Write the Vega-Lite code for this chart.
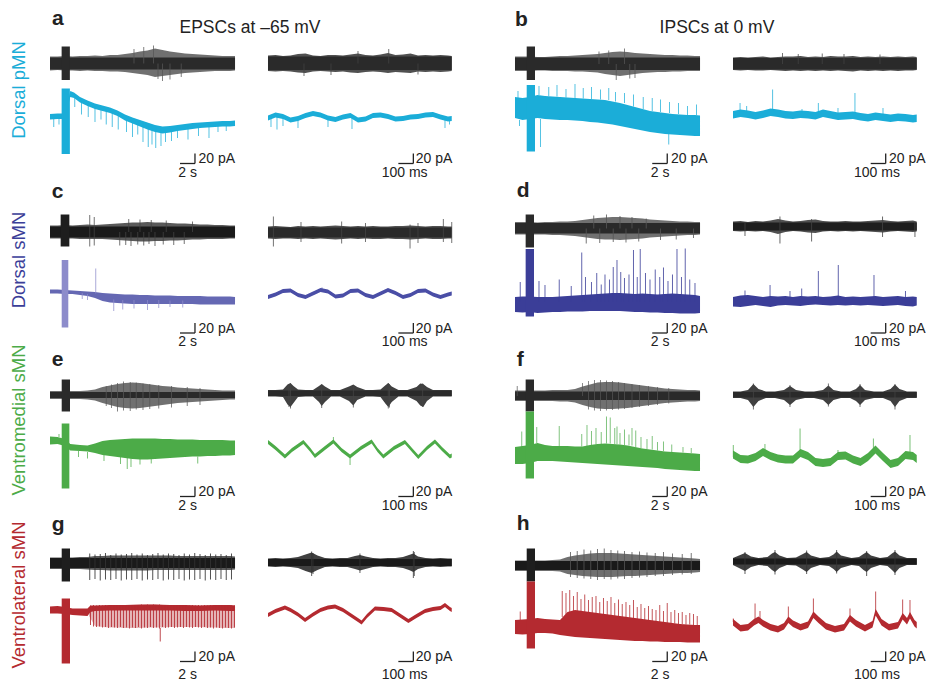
{
"$schema": "https://vega.github.io/schema/vega-lite/v6.json",
"padding": {"left": 10, "top": 0, "right": 0, "bottom": 0},
"bounds": "flush",
"align": "each",
"spacing": 0,
"columns": 4,
"config": {"view": {"stroke": null}, "text": {"font": "Liberation Sans"}, "rule": {"strokeWidth": 1}},
"datasets": {
"core": [
{"v":"aS","t":0,"y":95,"y2":119},{"v":"aS","t":24.67,"y":95,"y2":119},
{"v":"aF","t":0,"y":94,"y2":121},{"v":"aF","t":1225,"y":94,"y2":121},
{"v":"bS","t":0,"y":94,"y2":119},{"v":"bS","t":24.67,"y":94,"y2":119},
{"v":"bF","t":0,"y":95,"y2":118},{"v":"bF","t":1225,"y":95,"y2":118},
{"v":"cS","t":0,"y":109,"y2":131},{"v":"cS","t":24.67,"y":109,"y2":131},
{"v":"cF","t":0,"y":109,"y2":129},{"v":"cF","t":1225,"y":109,"y2":129},
{"v":"dS","t":0,"y":117,"y2":138},{"v":"dS","t":24.67,"y":117,"y2":138},
{"v":"dF","t":0,"y":123,"y2":139},{"v":"dF","t":1225,"y":123,"y2":139},
{"v":"eS","t":0,"y":118,"y2":130},{"v":"eS","t":24.67,"y":118,"y2":130},
{"v":"eF","t":0,"y":122,"y2":133},{"v":"eF","t":1225,"y":122,"y2":133},
{"v":"fS","t":0,"y":114,"y2":131},{"v":"fS","t":24.67,"y":114,"y2":131},
{"v":"fF","t":0,"y":119,"y2":130},{"v":"fF","t":1225,"y":119,"y2":130},
{"v":"gS","t":0,"y":108,"y2":128},{"v":"gS","t":24.67,"y":108,"y2":128},
{"v":"gF","t":0,"y":112,"y2":126},{"v":"gF","t":1225,"y":112,"y2":126},
{"v":"hS","t":0,"y":104,"y2":122},{"v":"hS","t":24.67,"y":104,"y2":122},
{"v":"hF","t":0,"y":115,"y2":127},{"v":"hF","t":1225,"y":115,"y2":127}
],
"stim": [
{"v":"a","k":"r","t":1.55,"t2":2.65,"y":74,"y2":141},{"v":"a","k":"m","t":1.55,"t2":2.65,"y":-74,"y2":57},
{"v":"b","k":"r","t":1.56,"t2":2.67,"y":74,"y2":141},{"v":"b","k":"m","t":1.56,"t2":2.67,"y":-69,"y2":64},
{"v":"c","k":"r","t":1.42,"t2":2.58,"y":91,"y2":155},{"v":"c","k":"m","t":1.56,"t2":2.44,"y":-71,"y2":64},
{"v":"d","k":"r","t":1.42,"t2":2.53,"y":89,"y2":155},{"v":"d","k":"m","t":1.42,"t2":2.53,"y":-49,"y2":86},
{"v":"e","k":"r","t":1.56,"t2":2.67,"y":91,"y2":155},{"v":"e","k":"m","t":1.56,"t2":2.58,"y":-63,"y2":67},
{"v":"f","k":"r","t":1.42,"t2":2.53,"y":91,"y2":155},{"v":"f","k":"m","t":1.42,"t2":2.53,"y":-43,"y2":91},
{"v":"g","k":"r","t":1.56,"t2":2.67,"y":81,"y2":147},{"v":"g","k":"m","t":1.56,"t2":2.67,"y":-83,"y2":47},
{"v":"h","k":"r","t":1.56,"t2":2.67,"y":81,"y2":147},{"v":"h","k":"m","t":1.56,"t2":2.67,"y":-53,"y2":81}
],
"bars": [
{"v":"aS","t":17.33,"t2":19.33,"y":-93,"y2":-93},{"v":"aS","t":19.33,"t2":19.33,"y":-93,"y2":-73},
{"v":"aF","t":869,"t2":969,"y":-93,"y2":-93},{"v":"aF","t":969,"t2":969,"y":-93,"y2":-73},
{"v":"bS","t":18.3,"t2":20.3,"y":-93,"y2":-93},{"v":"bS","t":20.3,"t2":20.3,"y":-93,"y2":-73},
{"v":"bF","t":918,"t2":1018,"y":-93,"y2":-93},{"v":"bF","t":1018,"t2":1018,"y":-93,"y2":-73},
{"v":"cS","t":17.33,"t2":19.33,"y":-82,"y2":-82},{"v":"cS","t":19.33,"t2":19.33,"y":-82,"y2":-62},
{"v":"cF","t":869,"t2":969,"y":-82,"y2":-82},{"v":"cF","t":969,"t2":969,"y":-82,"y2":-62},
{"v":"dS","t":18.3,"t2":20.3,"y":-82,"y2":-82},{"v":"dS","t":20.3,"t2":20.3,"y":-82,"y2":-62},
{"v":"dF","t":918,"t2":1018,"y":-82,"y2":-82},{"v":"dF","t":1018,"t2":1018,"y":-82,"y2":-62},
{"v":"eS","t":17.33,"t2":19.33,"y":-79,"y2":-79},{"v":"eS","t":19.33,"t2":19.33,"y":-79,"y2":-59},
{"v":"eF","t":869,"t2":969,"y":-79,"y2":-79},{"v":"eF","t":969,"t2":969,"y":-79,"y2":-59},
{"v":"fS","t":18.3,"t2":20.3,"y":-79,"y2":-79},{"v":"fS","t":20.3,"t2":20.3,"y":-79,"y2":-59},
{"v":"fF","t":918,"t2":1018,"y":-79,"y2":-79},{"v":"fF","t":1018,"t2":1018,"y":-79,"y2":-59},
{"v":"gS","t":17.33,"t2":19.33,"y":-79,"y2":-79},{"v":"gS","t":19.33,"t2":19.33,"y":-79,"y2":-59},
{"v":"gF","t":869,"t2":969,"y":-79,"y2":-79},{"v":"gF","t":969,"t2":969,"y":-79,"y2":-59},
{"v":"hS","t":18.3,"t2":20.3,"y":-79,"y2":-79},{"v":"hS","t":20.3,"t2":20.3,"y":-79,"y2":-59},
{"v":"hF","t":918,"t2":1018,"y":-79,"y2":-79},{"v":"hF","t":1018,"t2":1018,"y":-79,"y2":-59}
],
"labs": [
{"v":"aS","t":19.8,"y":-92,"txt":"20 pA"},{"v":"aS","t":17.1,"y":-119,"txt":"2 s"},
{"v":"aF","t":985,"y":-92,"txt":"20 pA"},{"v":"aF","t":758,"y":-119,"txt":"100 ms"},
{"v":"bS","t":20.8,"y":-92,"txt":"20 pA"},{"v":"bS","t":18.1,"y":-119,"txt":"2 s"},
{"v":"bF","t":1040,"y":-92,"txt":"20 pA"},{"v":"bF","t":807,"y":-119,"txt":"100 ms"},
{"v":"cS","t":19.8,"y":-81,"txt":"20 pA"},{"v":"cS","t":17.1,"y":-108,"txt":"2 s"},
{"v":"cF","t":985,"y":-81,"txt":"20 pA"},{"v":"cF","t":758,"y":-108,"txt":"100 ms"},
{"v":"dS","t":20.8,"y":-81,"txt":"20 pA"},{"v":"dS","t":18.1,"y":-108,"txt":"2 s"},
{"v":"dF","t":1040,"y":-81,"txt":"20 pA"},{"v":"dF","t":807,"y":-108,"txt":"100 ms"},
{"v":"eS","t":19.8,"y":-78,"txt":"20 pA"},{"v":"eS","t":17.1,"y":-106,"txt":"2 s"},
{"v":"eF","t":985,"y":-78,"txt":"20 pA"},{"v":"eF","t":758,"y":-106,"txt":"100 ms"},
{"v":"fS","t":20.8,"y":-78,"txt":"20 pA"},{"v":"fS","t":18.1,"y":-106,"txt":"2 s"},
{"v":"fF","t":1040,"y":-78,"txt":"20 pA"},{"v":"fF","t":807,"y":-106,"txt":"100 ms"},
{"v":"gS","t":19.8,"y":-78,"txt":"20 pA"},{"v":"gS","t":17.1,"y":-113,"txt":"2 s"},
{"v":"gF","t":985,"y":-78,"txt":"20 pA"},{"v":"gF","t":758,"y":-113,"txt":"100 ms"},
{"v":"hS","t":20.8,"y":-78,"txt":"20 pA"},{"v":"hS","t":18.1,"y":-113,"txt":"2 s"},
{"v":"hF","t":1040,"y":-78,"txt":"20 pA"},{"v":"hF","t":807,"y":-113,"txt":"100 ms"}
],
"lets": [
{"v":"a","t":0.27,"y":184,"txt":"a"},{"v":"b","t":0,"y":182,"txt":"b"},
{"v":"c","t":0.22,"y":189,"txt":"c"},{"v":"d","t":0.22,"y":191,"txt":"d"},
{"v":"e","t":0.22,"y":182,"txt":"e"},{"v":"f","t":0.22,"y":182,"txt":"f"},
{"v":"g","t":0.22,"y":182,"txt":"g"},{"v":"h","t":0.22,"y":184,"txt":"h"}
],
"aSr": [{"t":0,"y":93,"y2":121},{"t":1,"y":94,"y2":121},{"t":2,"y":93,"y2":122},{"t":3,"y":93,"y2":121},{"t":4,"y":92,"y2":122},{"t":5,"y":93,"y2":122},{"t":6,"y":92,"y2":123},{"t":7,"y":92,"y2":122},{"t":8,"y":91,"y2":124},{"t":9,"y":91,"y2":124},{"t":10,"y":90,"y2":126},{"t":11,"y":88,"y2":128},{"t":12,"y":86,"y2":131},{"t":13,"y":84,"y2":133},{"t":14,"y":80,"y2":137},{"t":15,"y":82,"y2":134},{"t":16,"y":84,"y2":131},{"t":17,"y":86,"y2":129},{"t":18,"y":88,"y2":127},{"t":19,"y":89,"y2":126},{"t":20,"y":90,"y2":125},{"t":21,"y":91,"y2":124},{"t":22,"y":92,"y2":123},{"t":23,"y":92,"y2":122},{"t":24,"y":92,"y2":122},{"t":24.67,"y":93,"y2":122}],
"aSm": [{"t":0,"y":-5,"y2":6},{"t":1,"y":-4,"y2":7},{"t":2,"y":-4,"y2":7},{"t":2.7,"y":40,"y2":52},{"t":3.2,"y":38,"y2":49},{"t":4,"y":29,"y2":40},{"t":5,"y":22,"y2":33},{"t":6,"y":16,"y2":27},{"t":7,"y":12,"y2":23},{"t":8,"y":8,"y2":19},{"t":9,"y":2,"y2":13},{"t":10,"y":-7,"y2":5},{"t":11,"y":-13,"y2":-1},{"t":12,"y":-19,"y2":-6},{"t":13,"y":-25,"y2":-11},{"t":14,"y":-30,"y2":-16},{"t":15,"y":-33,"y2":-19},{"t":16,"y":-31,"y2":-18},{"t":17,"y":-28,"y2":-16},{"t":18,"y":-26,"y2":-14},{"t":19,"y":-24,"y2":-12},{"t":20,"y":-22,"y2":-11},{"t":21,"y":-21,"y2":-10},{"t":22,"y":-20,"y2":-9},{"t":23,"y":-19,"y2":-8},{"t":24,"y":-19,"y2":-8},{"t":24.67,"y":-18,"y2":-7}],
"aSx": [{"k":"r","t":12.5,"y":107,"y2":140},{"k":"r","t":13.8,"y":107,"y2":143},{"k":"r","t":15,"y":107,"y2":72},{"k":"r","t":16,"y":107,"y2":75},{"k":"r","t":14.4,"y":107,"y2":76},{"k":"r","t":11.2,"y":107,"y2":136},{"k":"r","t":17.5,"y":107,"y2":80},
{"k":"m","t":0.5,"y":0,"y2":-20},{"k":"m","t":1.2,"y":0,"y2":-15},{"k":"m","t":3.3,"y":45,"y2":20},{"k":"m","t":4.2,"y":33,"y2":5},{"k":"m","t":5.1,"y":27,"y2":0},{"k":"m","t":6,"y":21,"y2":-10},{"k":"m","t":6.8,"y":18,"y2":-5},{"k":"m","t":7.5,"y":15,"y2":-15},{"k":"m","t":8.3,"y":12,"y2":-20},{"k":"m","t":9.1,"y":8,"y2":-25},{"k":"m","t":10.2,"y":0,"y2":-30},{"k":"m","t":11,"y":-6,"y2":-40},{"k":"m","t":11.7,"y":-9,"y2":-35},{"k":"m","t":12.4,"y":-13,"y2":-50},{"k":"m","t":13.1,"y":-16,"y2":-60},{"k":"m","t":13.6,"y":-18,"y2":-55},{"k":"m","t":14.1,"y":-21,"y2":-62},{"k":"m","t":14.8,"y":-24,"y2":-58},{"k":"m","t":15.4,"y":-24,"y2":-50},{"k":"m","t":16.2,"y":-23,"y2":-48},{"k":"m","t":17,"y":-21,"y2":-42},{"k":"m","t":18.4,"y":-19,"y2":-45},{"k":"m","t":19.8,"y":-16,"y2":-38},{"k":"m","t":21.2,"y":-15,"y2":-42},{"k":"m","t":22.4,"y":-14,"y2":-30},{"k":"m","t":23.5,"y":-13,"y2":-28}],
"aFr": [{"t":0,"y":92,"y2":123},{"t":50,"y":91,"y2":124},{"t":100,"y":92,"y2":122},{"t":150,"y":91,"y2":123},{"t":200,"y":89,"y2":126},{"t":250,"y":88,"y2":127},{"t":300,"y":91,"y2":123},{"t":350,"y":92,"y2":122},{"t":400,"y":91,"y2":124},{"t":450,"y":90,"y2":124},{"t":500,"y":91,"y2":123},{"t":550,"y":89,"y2":125},{"t":600,"y":88,"y2":127},{"t":650,"y":90,"y2":124},{"t":700,"y":91,"y2":123},{"t":750,"y":90,"y2":125},{"t":800,"y":88,"y2":128},{"t":850,"y":90,"y2":124},{"t":900,"y":89,"y2":125},{"t":950,"y":88,"y2":127},{"t":1000,"y":91,"y2":123},{"t":1050,"y":90,"y2":124},{"t":1100,"y":91,"y2":123},{"t":1150,"y":90,"y2":124},{"t":1200,"y":91,"y2":123},{"t":1225,"y":92,"y2":122}],
"aFm": [{"t":0,"y":-7,"y2":3},{"t":50,"y":-1,"y2":9},{"t":100,"y":-4,"y2":6},{"t":150,"y":-11,"y2":-1},{"t":200,"y":-8,"y2":2},{"t":250,"y":-2,"y2":8},{"t":300,"y":2,"y2":12},{"t":350,"y":-1,"y2":9},{"t":400,"y":-7,"y2":3},{"t":450,"y":-10,"y2":0},{"t":500,"y":-5,"y2":5},{"t":550,"y":-2,"y2":8},{"t":600,"y":-11,"y2":-1},{"t":650,"y":-9,"y2":1},{"t":700,"y":-2,"y2":8},{"t":750,"y":-1,"y2":9},{"t":800,"y":-4,"y2":6},{"t":850,"y":-9,"y2":1},{"t":900,"y":-8,"y2":2},{"t":950,"y":-5,"y2":5},{"t":1000,"y":-4,"y2":6},{"t":1050,"y":-1,"y2":9},{"t":1100,"y":0,"y2":10},{"t":1150,"y":-5,"y2":5},{"t":1200,"y":-9,"y2":1},{"t":1225,"y":-8,"y2":2}],
"aFx": [{"k":"r","t":805,"y":107,"y2":136},{"k":"r","t":240,"y":107,"y2":82},{"k":"r","t":600,"y":107,"y2":132},{"k":"r","t":420,"y":107,"y2":84},{"k":"r","t":1000,"y":107,"y2":85},
{"k":"m","t":20,"y":-2,"y2":-20},{"k":"m","t":60,"y":2,"y2":-25},{"k":"m","t":100,"y":0,"y2":-18},{"k":"m","t":200,"y":-4,"y2":-22},{"k":"m","t":400,"y":-3,"y2":-20},{"k":"m","t":560,"y":0,"y2":-24},{"k":"m","t":1180,"y":-3,"y2":-22},{"k":"m","t":1210,"y":-4,"y2":-15}],
"bSr": [{"t":0,"y":92,"y2":121},{"t":1,"y":92,"y2":121},{"t":2,"y":92,"y2":121},{"t":3,"y":93,"y2":120},{"t":4,"y":93,"y2":120},{"t":5,"y":92,"y2":121},{"t":6,"y":92,"y2":122},{"t":7,"y":92,"y2":122},{"t":8,"y":91,"y2":123},{"t":9,"y":91,"y2":124},{"t":10,"y":90,"y2":125},{"t":11,"y":89,"y2":126},{"t":12,"y":86,"y2":128},{"t":13,"y":84,"y2":130},{"t":14,"y":82,"y2":131},{"t":15,"y":84,"y2":130},{"t":16,"y":86,"y2":128},{"t":17,"y":88,"y2":127},{"t":18,"y":89,"y2":126},{"t":19,"y":90,"y2":125},{"t":20,"y":90,"y2":124},{"t":21,"y":91,"y2":124},{"t":22,"y":91,"y2":123},{"t":23,"y":92,"y2":123},{"t":24,"y":92,"y2":122},{"t":24.67,"y":92,"y2":122}],
"bSm": [{"t":0,"y":-2,"y2":40},{"t":1,"y":-6,"y2":38},{"t":2,"y":-4,"y2":40},{"t":3,"y":-2,"y2":44},{"t":4,"y":-4,"y2":42},{"t":5,"y":-5,"y2":41},{"t":6,"y":-6,"y2":40},{"t":7,"y":-6,"y2":39},{"t":8,"y":-7,"y2":38},{"t":9,"y":-8,"y2":37},{"t":10,"y":-10,"y2":36},{"t":11,"y":-11,"y2":35},{"t":12,"y":-13,"y2":34},{"t":13,"y":-15,"y2":31},{"t":14,"y":-18,"y2":28},{"t":15,"y":-21,"y2":24},{"t":16,"y":-24,"y2":20},{"t":17,"y":-27,"y2":16},{"t":18,"y":-30,"y2":12},{"t":19,"y":-32,"y2":10},{"t":20,"y":-34,"y2":8},{"t":21,"y":-35,"y2":6},{"t":22,"y":-36,"y2":5},{"t":23,"y":-37,"y2":4},{"t":24,"y":-38,"y2":4},{"t":24.67,"y":-38,"y2":3}],
"bSx": [{"k":"r","t":13.5,"y":106,"y2":74},{"k":"r","t":14.6,"y":106,"y2":137},{"k":"r","t":12.5,"y":106,"y2":133},{"k":"r","t":16,"y":106,"y2":78},{"k":"r","t":11.2,"y":106,"y2":131},{"k":"r","t":15.3,"y":106,"y2":77},
{"k":"m","t":0.4,"y":38,"y2":52},{"k":"m","t":3.2,"y":44,"y2":62},{"k":"m","t":4.5,"y":42,"y2":60},{"k":"m","t":5.6,"y":41,"y2":64},{"k":"m","t":6.8,"y":39,"y2":56},{"k":"m","t":8,"y":38,"y2":66},{"k":"m","t":9.1,"y":37,"y2":58},{"k":"m","t":10.2,"y":36,"y2":60},{"k":"m","t":11.4,"y":35,"y2":55},{"k":"m","t":12.5,"y":34,"y2":58},{"k":"m","t":13.4,"y":31,"y2":50},{"k":"m","t":14.6,"y":28,"y2":48},{"k":"m","t":15.8,"y":21,"y2":45},{"k":"m","t":17.1,"y":16,"y2":40},{"k":"m","t":18.3,"y":12,"y2":38},{"k":"m","t":19.4,"y":10,"y2":35},{"k":"m","t":20.6,"y":8,"y2":30},{"k":"m","t":21.8,"y":6,"y2":28},{"k":"m","t":23,"y":4,"y2":22},{"k":"m","t":24.2,"y":4,"y2":25},{"k":"m","t":3.4,"y":-4,"y2":-60},{"k":"m","t":0.6,"y":-6,"y2":-18},{"k":"m","t":20.5,"y":-34,"y2":-55}],
"bFr": [{"t":0,"y":94,"y2":119},{"t":50,"y":93,"y2":120},{"t":100,"y":94,"y2":119},{"t":150,"y":93,"y2":120},{"t":200,"y":93,"y2":121},{"t":250,"y":94,"y2":119},{"t":300,"y":93,"y2":120},{"t":350,"y":92,"y2":121},{"t":400,"y":93,"y2":121},{"t":450,"y":92,"y2":122},{"t":500,"y":93,"y2":120},{"t":550,"y":92,"y2":121},{"t":600,"y":93,"y2":120},{"t":650,"y":92,"y2":122},{"t":700,"y":93,"y2":121},{"t":750,"y":92,"y2":121},{"t":800,"y":91,"y2":122},{"t":850,"y":93,"y2":120},{"t":900,"y":92,"y2":121},{"t":950,"y":93,"y2":120},{"t":1000,"y":92,"y2":121},{"t":1050,"y":93,"y2":120},{"t":1100,"y":92,"y2":121},{"t":1150,"y":93,"y2":120},{"t":1200,"y":93,"y2":121},{"t":1225,"y":94,"y2":120}],
"bFm": [{"t":0,"y":-3,"y2":12},{"t":50,"y":0,"y2":15},{"t":100,"y":-2,"y2":13},{"t":150,"y":-5,"y2":10},{"t":200,"y":-2,"y2":13},{"t":250,"y":2,"y2":17},{"t":300,"y":0,"y2":15},{"t":350,"y":-3,"y2":12},{"t":400,"y":-4,"y2":11},{"t":450,"y":-2,"y2":13},{"t":500,"y":-3,"y2":12},{"t":550,"y":-5,"y2":10},{"t":600,"y":0,"y2":15},{"t":650,"y":-3,"y2":12},{"t":700,"y":-6,"y2":9},{"t":750,"y":-5,"y2":10},{"t":800,"y":-4,"y2":11},{"t":850,"y":-7,"y2":8},{"t":900,"y":-9,"y2":6},{"t":950,"y":-6,"y2":9},{"t":1000,"y":-8,"y2":7},{"t":1050,"y":-10,"y2":5},{"t":1100,"y":-8,"y2":7},{"t":1150,"y":-9,"y2":6},{"t":1200,"y":-11,"y2":4},{"t":1225,"y":-10,"y2":5}],
"bFx": [{"k":"r","t":330,"y":106,"y2":128},{"k":"r","t":435,"y":106,"y2":126},{"k":"r","t":595,"y":106,"y2":127},{"k":"r","t":740,"y":106,"y2":126},{"k":"r","t":980,"y":106,"y2":125},
{"k":"m","t":47,"y":10,"y2":28},{"k":"m","t":91,"y":10,"y2":22},{"k":"m","t":264,"y":12,"y2":55},{"k":"m","t":569,"y":8,"y2":28},{"k":"m","t":813,"y":8,"y2":48},{"k":"m","t":1000,"y":5,"y2":18},{"k":"m","t":700,"y":5,"y2":18},{"k":"m","t":460,"y":8,"y2":16}],
"cSr": [{"t":0,"y":107,"y2":133},{"t":1,"y":107,"y2":133},{"t":2,"y":107,"y2":134},{"t":3,"y":107,"y2":133},{"t":4,"y":106,"y2":134},{"t":5,"y":106,"y2":135},{"t":6,"y":106,"y2":134},{"t":7,"y":106,"y2":135},{"t":8,"y":105,"y2":136},{"t":9,"y":104,"y2":137},{"t":10,"y":103,"y2":138},{"t":11,"y":102,"y2":139},{"t":12,"y":101,"y2":139},{"t":13,"y":101,"y2":140},{"t":14,"y":102,"y2":139},{"t":15,"y":102,"y2":139},{"t":16,"y":103,"y2":138},{"t":17,"y":103,"y2":137},{"t":18,"y":104,"y2":137},{"t":19,"y":105,"y2":136},{"t":20,"y":105,"y2":135},{"t":21,"y":106,"y2":135},{"t":22,"y":106,"y2":134},{"t":23,"y":106,"y2":134},{"t":24,"y":107,"y2":133},{"t":24.67,"y":107,"y2":133}],
"cSm": [{"t":0,"y":-3,"y2":5},{"t":1,"y":-3,"y2":5},{"t":2,"y":-4,"y2":4},{"t":3,"y":-4,"y2":3},{"t":4,"y":-6,"y2":2},{"t":5,"y":-8,"y2":1},{"t":6,"y":-12,"y2":0},{"t":7,"y":-18,"y2":-2},{"t":8,"y":-21,"y2":-3},{"t":9,"y":-22,"y2":-4},{"t":10,"y":-23,"y2":-5},{"t":11,"y":-24,"y2":-5},{"t":12,"y":-24,"y2":-6},{"t":13,"y":-24,"y2":-6},{"t":14,"y":-24,"y2":-7},{"t":15,"y":-24,"y2":-7},{"t":16,"y":-24,"y2":-7},{"t":17,"y":-24,"y2":-8},{"t":18,"y":-24,"y2":-8},{"t":19,"y":-24,"y2":-8},{"t":20,"y":-25,"y2":-8},{"t":21,"y":-25,"y2":-9},{"t":22,"y":-25,"y2":-9},{"t":23,"y":-25,"y2":-9},{"t":24,"y":-25,"y2":-9},{"t":24.67,"y":-25,"y2":-10}],
"cSx": [{"k":"r","t":5.3,"y":91,"y2":154},{"k":"r","t":5.9,"y":93,"y2":150},{"k":"r","t":9.3,"y":120,"y2":93},{"k":"r","t":10.1,"y":120,"y2":94},{"k":"r","t":10.8,"y":120,"y2":92},{"k":"r","t":11.7,"y":120,"y2":95},{"k":"r","t":12.5,"y":120,"y2":93},{"k":"r","t":13.2,"y":120,"y2":96},{"k":"r","t":14,"y":120,"y2":92},{"k":"r","t":15.1,"y":120,"y2":95},{"k":"r","t":16.5,"y":120,"y2":94},{"k":"r","t":17.9,"y":120,"y2":96},{"k":"r","t":10.5,"y":120,"y2":146},{"k":"r","t":12,"y":120,"y2":145},{"k":"r","t":13.5,"y":120,"y2":144},{"k":"r","t":15.5,"y":120,"y2":143},{"k":"r","t":19,"y":120,"y2":141},
{"k":"m","t":6.1,"y":-3,"y2":47},{"k":"m","t":8.5,"y":-15,"y2":-38},{"k":"m","t":9.7,"y":-16,"y2":-35},{"k":"m","t":11.2,"y":-16,"y2":-33},{"k":"m","t":13,"y":-16,"y2":-36},{"k":"m","t":14.5,"y":-16,"y2":-32},{"k":"m","t":16,"y":-17,"y2":-30},{"k":"m","t":17.7,"y":-17,"y2":-31},{"k":"m","t":4.3,"y":-2,"y2":-14},{"k":"m","t":5,"y":-4,"y2":-16}],
"cFr": [{"t":0,"y":107,"y2":131},{"t":50,"y":106,"y2":132},{"t":100,"y":107,"y2":131},{"t":150,"y":107,"y2":130},{"t":200,"y":106,"y2":132},{"t":250,"y":107,"y2":131},{"t":300,"y":106,"y2":132},{"t":350,"y":107,"y2":131},{"t":400,"y":106,"y2":132},{"t":450,"y":105,"y2":133},{"t":500,"y":106,"y2":132},{"t":550,"y":107,"y2":131},{"t":600,"y":106,"y2":132},{"t":650,"y":107,"y2":131},{"t":700,"y":106,"y2":132},{"t":750,"y":106,"y2":131},{"t":800,"y":107,"y2":131},{"t":850,"y":106,"y2":132},{"t":900,"y":106,"y2":132},{"t":950,"y":105,"y2":133},{"t":1000,"y":106,"y2":132},{"t":1050,"y":107,"y2":131},{"t":1100,"y":106,"y2":132},{"t":1150,"y":106,"y2":132},{"t":1200,"y":107,"y2":131},{"t":1225,"y":107,"y2":131}],
"cFm": [{"t":0,"y":-14,"y2":-6},{"t":50,"y":-9,"y2":-1},{"t":100,"y":-2,"y2":6},{"t":150,"y":-1,"y2":7},{"t":200,"y":-10,"y2":-2},{"t":250,"y":-14,"y2":-6},{"t":300,"y":-7,"y2":1},{"t":350,"y":0,"y2":8},{"t":400,"y":-3,"y2":5},{"t":450,"y":-13,"y2":-5},{"t":500,"y":-11,"y2":-3},{"t":550,"y":-2,"y2":6},{"t":600,"y":-1,"y2":7},{"t":650,"y":-10,"y2":-2},{"t":700,"y":-14,"y2":-6},{"t":750,"y":-7,"y2":1},{"t":800,"y":0,"y2":8},{"t":850,"y":-6,"y2":2},{"t":900,"y":-14,"y2":-6},{"t":950,"y":-10,"y2":-2},{"t":1000,"y":-2,"y2":6},{"t":1050,"y":-1,"y2":7},{"t":1100,"y":-9,"y2":-1},{"t":1150,"y":-14,"y2":-6},{"t":1200,"y":-9,"y2":-1},{"t":1225,"y":-7,"y2":1}],
"cFx": [{"k":"r","t":36,"y":91,"y2":151},{"k":"r","t":220,"y":100,"y2":140},{"k":"r","t":491,"y":97,"y2":141},{"k":"r","t":650,"y":100,"y2":138},{"k":"r","t":947,"y":87,"y2":135},{"k":"r","t":1000,"y":98,"y2":138},{"k":"r","t":1169,"y":100,"y2":146},{"k":"r","t":1225,"y":98,"y2":140},{"k":"m","t":360,"y":2,"y2":9}],
"dSr": [{"t":0,"y":115,"y2":140},{"t":1,"y":115,"y2":140},{"t":2,"y":115,"y2":140},{"t":3,"y":115,"y2":139},{"t":4,"y":115,"y2":140},{"t":5,"y":114,"y2":140},{"t":6,"y":114,"y2":141},{"t":7,"y":113,"y2":141},{"t":8,"y":112,"y2":142},{"t":9,"y":110,"y2":144},{"t":10,"y":108,"y2":146},{"t":11,"y":106,"y2":148},{"t":12,"y":105,"y2":149},{"t":13,"y":105,"y2":150},{"t":14,"y":104,"y2":150},{"t":15,"y":105,"y2":149},{"t":16,"y":106,"y2":148},{"t":17,"y":107,"y2":147},{"t":18,"y":109,"y2":145},{"t":19,"y":110,"y2":144},{"t":20,"y":111,"y2":143},{"t":21,"y":112,"y2":142},{"t":22,"y":113,"y2":141},{"t":23,"y":114,"y2":141},{"t":24,"y":114,"y2":140},{"t":24.67,"y":115,"y2":140}],
"dSm": [{"t":0,"y":-40,"y2":-10},{"t":1,"y":-41,"y2":-9},{"t":2,"y":-40,"y2":-9},{"t":3,"y":-42,"y2":-10},{"t":4,"y":-41,"y2":-10},{"t":5,"y":-40,"y2":-10},{"t":6,"y":-40,"y2":-9},{"t":7,"y":-39,"y2":-8},{"t":8,"y":-39,"y2":-7},{"t":9,"y":-39,"y2":-6},{"t":10,"y":-38,"y2":-5},{"t":11,"y":-38,"y2":-4},{"t":12,"y":-38,"y2":-3},{"t":13,"y":-38,"y2":-2},{"t":14,"y":-38,"y2":-2},{"t":15,"y":-39,"y2":-3},{"t":16,"y":-40,"y2":-4},{"t":17,"y":-40,"y2":-3},{"t":18,"y":-41,"y2":-4},{"t":19,"y":-41,"y2":-5},{"t":20,"y":-42,"y2":-4},{"t":21,"y":-42,"y2":-3},{"t":22,"y":-43,"y2":-4},{"t":23,"y":-43,"y2":-5},{"t":24,"y":-43,"y2":-6},{"t":24.67,"y":-42,"y2":-8}],
"dSx": [{"k":"r","t":9.5,"y":127,"y2":97},{"k":"r","t":10.5,"y":127,"y2":153},{"k":"r","t":11.3,"y":127,"y2":98},{"k":"r","t":12.2,"y":127,"y2":155},{"k":"r","t":13.1,"y":127,"y2":100},{"k":"r","t":14,"y":127,"y2":152},{"k":"r","t":14.8,"y":127,"y2":99},{"k":"r","t":15.6,"y":127,"y2":150},{"k":"r","t":16.5,"y":127,"y2":101},{"k":"r","t":17.5,"y":127,"y2":147},{"k":"r","t":19.4,"y":127,"y2":104},{"k":"r","t":21.5,"y":127,"y2":105},{"k":"r","t":23.8,"y":127,"y2":108},
{"k":"m","t":0.7,"y":-20,"y2":20},{"k":"m","t":3.2,"y":-20,"y2":22},{"k":"m","t":4,"y":-20,"y2":14},{"k":"m","t":5.9,"y":-20,"y2":25},{"k":"m","t":7.5,"y":-20,"y2":12},{"k":"m","t":8.9,"y":-20,"y2":79},{"k":"m","t":9.4,"y":-20,"y2":30},{"k":"m","t":10.2,"y":-20,"y2":20},{"k":"m","t":10.9,"y":-20,"y2":38},{"k":"m","t":11.5,"y":-20,"y2":15},{"k":"m","t":12,"y":-20,"y2":35},{"k":"m","t":12.6,"y":-20,"y2":25},{"k":"m","t":13.1,"y":-20,"y2":50},{"k":"m","t":13.6,"y":-20,"y2":64},{"k":"m","t":14.1,"y":-20,"y2":40},{"k":"m","t":14.6,"y":-20,"y2":28},{"k":"m","t":15.2,"y":-20,"y2":35},{"k":"m","t":15.8,"y":-20,"y2":84},{"k":"m","t":16.3,"y":-20,"y2":30},{"k":"m","t":16.7,"y":-20,"y2":86},{"k":"m","t":17.4,"y":-20,"y2":38},{"k":"m","t":18,"y":-20,"y2":25},{"k":"m","t":18.7,"y":-20,"y2":45},{"k":"m","t":19.3,"y":-20,"y2":30},{"k":"m","t":19.8,"y":-20,"y2":49},{"k":"m","t":20.4,"y":-20,"y2":22},{"k":"m","t":21,"y":-20,"y2":35},{"k":"m","t":21.6,"y":-20,"y2":86},{"k":"m","t":22.2,"y":-20,"y2":30},{"k":"m","t":22.7,"y":-20,"y2":87},{"k":"m","t":23.3,"y":-20,"y2":25},{"k":"m","t":24,"y":-20,"y2":18}],
"dFr": [{"t":0,"y":122,"y2":141},{"t":50,"y":121,"y2":142},{"t":100,"y":122,"y2":140},{"t":150,"y":121,"y2":142},{"t":200,"y":122,"y2":141},{"t":250,"y":120,"y2":143},{"t":300,"y":116,"y2":146},{"t":350,"y":120,"y2":143},{"t":400,"y":122,"y2":141},{"t":450,"y":121,"y2":142},{"t":500,"y":119,"y2":144},{"t":550,"y":118,"y2":145},{"t":600,"y":121,"y2":142},{"t":650,"y":122,"y2":141},{"t":700,"y":121,"y2":141},{"t":750,"y":122,"y2":142},{"t":800,"y":121,"y2":141},{"t":850,"y":122,"y2":141},{"t":900,"y":121,"y2":142},{"t":950,"y":120,"y2":143},{"t":1000,"y":119,"y2":144},{"t":1050,"y":121,"y2":142},{"t":1100,"y":122,"y2":141},{"t":1150,"y":121,"y2":142},{"t":1200,"y":120,"y2":143},{"t":1225,"y":121,"y2":141}],
"dFm": [{"t":0,"y":-29,"y2":-10},{"t":50,"y":-30,"y2":-7},{"t":100,"y":-28,"y2":-6},{"t":150,"y":-26,"y2":-8},{"t":200,"y":-28,"y2":-10},{"t":250,"y":-30,"y2":-8},{"t":300,"y":-27,"y2":-9},{"t":350,"y":-26,"y2":-8},{"t":400,"y":-27,"y2":-10},{"t":450,"y":-28,"y2":-8},{"t":500,"y":-26,"y2":-9},{"t":550,"y":-25,"y2":-8},{"t":600,"y":-26,"y2":-10},{"t":650,"y":-27,"y2":-9},{"t":700,"y":-26,"y2":-7},{"t":750,"y":-27,"y2":-10},{"t":800,"y":-26,"y2":-9},{"t":850,"y":-27,"y2":-10},{"t":900,"y":-26,"y2":-9},{"t":950,"y":-27,"y2":-8},{"t":1000,"y":-28,"y2":-10},{"t":1050,"y":-27,"y2":-9},{"t":1100,"y":-26,"y2":-8},{"t":1150,"y":-28,"y2":-10},{"t":1200,"y":-29,"y2":-9},{"t":1225,"y":-27,"y2":-10}],
"dFx": [{"k":"r","t":313,"y":97,"y2":151},{"k":"r","t":524,"y":101,"y2":146},{"k":"r","t":997,"y":110,"y2":151},{"k":"r","t":1213,"y":110,"y2":140},{"k":"r","t":80,"y":112,"y2":138},
{"k":"m","t":247,"y":-10,"y2":14},{"k":"m","t":458,"y":-10,"y2":7},{"k":"m","t":569,"y":-10,"y2":42},{"k":"m","t":702,"y":-10,"y2":54},{"k":"m","t":940,"y":-10,"y2":34},{"k":"m","t":80,"y":-10,"y2":3},{"k":"m","t":380,"y":-10,"y2":2},{"k":"m","t":1150,"y":-10,"y2":2}],
"eSr": [{"t":0,"y":116,"y2":132},{"t":1,"y":116,"y2":132},{"t":2,"y":116,"y2":132},{"t":3,"y":116,"y2":132},{"t":4,"y":116,"y2":132},{"t":5,"y":115,"y2":133},{"t":6,"y":113,"y2":135},{"t":7,"y":108,"y2":140},{"t":8,"y":104,"y2":143},{"t":9,"y":100,"y2":146},{"t":10,"y":98,"y2":148},{"t":11,"y":97,"y2":149},{"t":12,"y":98,"y2":148},{"t":13,"y":100,"y2":146},{"t":14,"y":102,"y2":144},{"t":15,"y":104,"y2":142},{"t":16,"y":106,"y2":141},{"t":17,"y":108,"y2":139},{"t":18,"y":109,"y2":138},{"t":19,"y":110,"y2":137},{"t":20,"y":111,"y2":136},{"t":21,"y":112,"y2":135},{"t":22,"y":113,"y2":134},{"t":23,"y":114,"y2":133},{"t":24,"y":115,"y2":133},{"t":24.67,"y":115,"y2":133}],
"eSm": [{"t":0,"y":25,"y2":41},{"t":1,"y":26,"y2":40},{"t":2,"y":22,"y2":36},{"t":2.7,"y":13,"y2":26},{"t":4,"y":12,"y2":24},{"t":5,"y":11,"y2":23},{"t":6,"y":8,"y2":27},{"t":7,"y":4,"y2":32},{"t":8,"y":2,"y2":34},{"t":9,"y":0,"y2":35},{"t":10,"y":-2,"y2":36},{"t":11,"y":-4,"y2":37},{"t":12,"y":-5,"y2":37},{"t":13,"y":-5,"y2":37},{"t":14,"y":-4,"y2":37},{"t":15,"y":-3,"y2":36},{"t":16,"y":-2,"y2":36},{"t":17,"y":-1,"y2":35},{"t":18,"y":0,"y2":35},{"t":19,"y":1,"y2":35},{"t":20,"y":1,"y2":34},{"t":21,"y":2,"y2":34},{"t":22,"y":2,"y2":34},{"t":23,"y":3,"y2":34},{"t":24,"y":3,"y2":33},{"t":24.67,"y":4,"y2":33}],
"eSx": [{"k":"r","t":9,"y":91,"y2":148},{"k":"r","t":9.8,"y":93,"y2":151},{"k":"r","t":10.7,"y":92,"y2":150},{"k":"r","t":11.5,"y":95,"y2":149},{"k":"r","t":12.4,"y":94,"y2":147},{"k":"r","t":13.3,"y":96,"y2":146},{"k":"r","t":14.5,"y":97,"y2":144},{"k":"r","t":16.2,"y":99,"y2":142},{"k":"r","t":18.3,"y":102,"y2":140},{"k":"r","t":20,"y":104,"y2":138},{"k":"r","t":8.2,"y":98,"y2":145},{"k":"r","t":7.5,"y":102,"y2":142},
{"k":"m","t":10.3,"y":0,"y2":-24},{"k":"m","t":10.8,"y":-2,"y2":-20},{"k":"m","t":9.4,"y":0,"y2":-14},{"k":"m","t":12,"y":-4,"y2":-15},{"k":"m","t":13.5,"y":-4,"y2":-13},{"k":"m","t":19.7,"y":1,"y2":-13},{"k":"m","t":3.8,"y":12,"y2":0},{"k":"m","t":5,"y":10,"y2":-3},{"k":"m","t":7.2,"y":4,"y2":-8},{"k":"m","t":1.2,"y":40,"y2":46}],
"eFr": [{"t":0,"y":121,"y2":134},{"t":50,"y":121,"y2":134},{"t":100,"y":120,"y2":135},{"t":130,"y":105,"y2":145},{"t":150,"y":100,"y2":148},{"t":170,"y":108,"y2":142},{"t":200,"y":120,"y2":135},{"t":250,"y":121,"y2":134},{"t":300,"y":121,"y2":134},{"t":340,"y":110,"y2":142},{"t":358,"y":102,"y2":146},{"t":380,"y":110,"y2":141},{"t":420,"y":121,"y2":134},{"t":480,"y":121,"y2":134},{"t":540,"y":112,"y2":141},{"t":569,"y":103,"y2":145},{"t":595,"y":114,"y2":140},{"t":650,"y":121,"y2":134},{"t":700,"y":121,"y2":134},{"t":750,"y":120,"y2":135},{"t":785,"y":106,"y2":144},{"t":802,"y":100,"y2":148},{"t":825,"y":110,"y2":141},{"t":870,"y":121,"y2":134},{"t":930,"y":121,"y2":134},{"t":990,"y":112,"y2":140},{"t":1015,"y":103,"y2":147},{"t":1035,"y":100,"y2":146},{"t":1060,"y":112,"y2":140},{"t":1100,"y":121,"y2":134},{"t":1150,"y":121,"y2":134},{"t":1200,"y":121,"y2":134},{"t":1225,"y":121,"y2":134}],
"eFm": [{"t":0,"y":26,"y2":34},{"t":50,"y":14,"y2":22},{"t":113,"y":-3,"y2":5},{"t":160,"y":10,"y2":18},{"t":236,"y":26,"y2":34},{"t":280,"y":11,"y2":19},{"t":313,"y":-2,"y2":6},{"t":380,"y":14,"y2":22},{"t":436,"y":27,"y2":35},{"t":490,"y":10,"y2":18},{"t":547,"y":-3,"y2":5},{"t":620,"y":14,"y2":22},{"t":691,"y":27,"y2":35},{"t":730,"y":10,"y2":18},{"t":769,"y":-3,"y2":5},{"t":840,"y":14,"y2":22},{"t":913,"y":26,"y2":34},{"t":960,"y":10,"y2":18},{"t":1002,"y":-4,"y2":4},{"t":1060,"y":14,"y2":22},{"t":1113,"y":27,"y2":35},{"t":1160,"y":12,"y2":20},{"t":1213,"y":-3,"y2":5},{"t":1225,"y":-1,"y2":7}],
"eFx": [{"k":"r","t":150,"y":97,"y2":147},{"k":"r","t":358,"y":98,"y2":145},{"k":"r","t":569,"y":99,"y2":144},{"k":"r","t":802,"y":97,"y2":148},{"k":"r","t":1031,"y":100,"y2":147},{"k":"r","t":140,"y":100,"y2":146},{"k":"r","t":810,"y":99,"y2":146},
{"k":"m","t":436,"y":31,"y2":40},{"k":"m","t":547,"y":1,"y2":-16}],
"fSr": [{"t":0,"y":112,"y2":133},{"t":1,"y":112,"y2":133},{"t":2,"y":112,"y2":133},{"t":3,"y":112,"y2":133},{"t":4,"y":112,"y2":133},{"t":5,"y":112,"y2":134},{"t":6,"y":111,"y2":134},{"t":7,"y":111,"y2":134},{"t":8,"y":109,"y2":136},{"t":9,"y":104,"y2":141},{"t":10,"y":100,"y2":145},{"t":11,"y":97,"y2":149},{"t":12,"y":96,"y2":150},{"t":13,"y":96,"y2":150},{"t":14,"y":97,"y2":149},{"t":15,"y":98,"y2":147},{"t":16,"y":100,"y2":145},{"t":17,"y":102,"y2":143},{"t":18,"y":104,"y2":141},{"t":19,"y":106,"y2":139},{"t":20,"y":108,"y2":137},{"t":21,"y":109,"y2":136},{"t":22,"y":110,"y2":135},{"t":23,"y":111,"y2":134},{"t":24,"y":111,"y2":134},{"t":24.67,"y":112,"y2":133}],
"fSm": [{"t":0,"y":-14,"y2":20},{"t":1,"y":-14,"y2":22},{"t":2,"y":-12,"y2":24},{"t":3,"y":-8,"y2":28},{"t":4,"y":-8,"y2":24},{"t":5,"y":-8,"y2":22},{"t":6,"y":-9,"y2":22},{"t":7,"y":-10,"y2":22},{"t":8,"y":-11,"y2":21},{"t":9,"y":-12,"y2":21},{"t":10,"y":-13,"y2":24},{"t":11,"y":-14,"y2":26},{"t":12,"y":-15,"y2":27},{"t":13,"y":-16,"y2":26},{"t":14,"y":-17,"y2":25},{"t":15,"y":-18,"y2":23},{"t":16,"y":-19,"y2":20},{"t":17,"y":-20,"y2":17},{"t":18,"y":-21,"y2":15},{"t":19,"y":-22,"y2":13},{"t":20,"y":-24,"y2":11},{"t":21,"y":-25,"y2":10},{"t":22,"y":-26,"y2":9},{"t":23,"y":-27,"y2":8},{"t":24,"y":-28,"y2":7},{"t":24.67,"y":-28,"y2":6}],
"fSx": [{"k":"r","t":0.3,"y":122,"y2":142},{"k":"r","t":9,"y":122,"y2":148},{"k":"r","t":9.8,"y":95,"y2":152},{"k":"r","t":10.6,"y":93,"y2":154},{"k":"r","t":11.4,"y":92,"y2":154},{"k":"r","t":12.2,"y":93,"y2":153},{"k":"r","t":13,"y":94,"y2":152},{"k":"r","t":13.8,"y":95,"y2":150},{"k":"r","t":14.6,"y":96,"y2":148},{"k":"r","t":15.6,"y":98,"y2":146},{"k":"r","t":16.6,"y":100,"y2":144},{"k":"r","t":17.8,"y":102,"y2":142},{"k":"r","t":19,"y":104,"y2":140},{"k":"r","t":20.5,"y":107,"y2":138},
{"k":"m","t":0.9,"y":20,"y2":51},{"k":"m","t":2.9,"y":28,"y2":60},{"k":"m","t":5.9,"y":22,"y2":62},{"k":"m","t":8.9,"y":21,"y2":46},{"k":"m","t":9.6,"y":21,"y2":64},{"k":"m","t":10.2,"y":24,"y2":52},{"k":"m","t":10.8,"y":25,"y2":58},{"k":"m","t":11.5,"y":26,"y2":50},{"k":"m","t":12.2,"y":27,"y2":81},{"k":"m","t":12.7,"y":27,"y2":79},{"k":"m","t":13.3,"y":26,"y2":58},{"k":"m","t":13.6,"y":26,"y2":61},{"k":"m","t":14,"y":25,"y2":48},{"k":"m","t":14.6,"y":24,"y2":55},{"k":"m","t":15.2,"y":23,"y2":45},{"k":"m","t":15.6,"y":23,"y2":58},{"k":"m","t":16.1,"y":20,"y2":53},{"k":"m","t":16.8,"y":18,"y2":40},{"k":"m","t":17.6,"y":16,"y2":36},{"k":"m","t":18.3,"y":15,"y2":42},{"k":"m","t":19,"y":13,"y2":30},{"k":"m","t":19.8,"y":12,"y2":31},{"k":"m","t":20.9,"y":10,"y2":25},{"k":"m","t":22.4,"y":9,"y2":20},{"k":"m","t":23.5,"y":8,"y2":18}],
"fFr": [{"t":0,"y":118,"y2":131},{"t":50,"y":118,"y2":131},{"t":100,"y":114,"y2":134},{"t":136,"y":100,"y2":146},{"t":170,"y":112,"y2":136},{"t":220,"y":118,"y2":131},{"t":280,"y":118,"y2":131},{"t":340,"y":114,"y2":134},{"t":380,"y":104,"y2":142},{"t":420,"y":114,"y2":134},{"t":480,"y":118,"y2":131},{"t":540,"y":118,"y2":131},{"t":600,"y":114,"y2":134},{"t":636,"y":104,"y2":143},{"t":670,"y":114,"y2":134},{"t":720,"y":118,"y2":131},{"t":780,"y":118,"y2":131},{"t":820,"y":112,"y2":136},{"t":847,"y":104,"y2":144},{"t":880,"y":114,"y2":134},{"t":940,"y":118,"y2":131},{"t":1000,"y":118,"y2":131},{"t":1050,"y":112,"y2":136},{"t":1080,"y":100,"y2":145},{"t":1110,"y":112,"y2":136},{"t":1160,"y":118,"y2":131},{"t":1225,"y":118,"y2":131}],
"fFm": [{"t":0,"y":-3,"y2":13},{"t":50,"y":-12,"y2":4},{"t":100,"y":-13,"y2":3},{"t":150,"y":-8,"y2":8},{"t":200,"y":2,"y2":18},{"t":250,"y":-6,"y2":10},{"t":300,"y":-11,"y2":5},{"t":350,"y":-13,"y2":3},{"t":400,"y":-13,"y2":3},{"t":450,"y":0,"y2":16},{"t":500,"y":-6,"y2":10},{"t":550,"y":-18,"y2":-2},{"t":600,"y":-20,"y2":-4},{"t":650,"y":-18,"y2":-2},{"t":700,"y":-6,"y2":10},{"t":750,"y":-5,"y2":11},{"t":800,"y":-13,"y2":3},{"t":850,"y":-18,"y2":-2},{"t":900,"y":-8,"y2":8},{"t":950,"y":7,"y2":23},{"t":1000,"y":-8,"y2":8},{"t":1050,"y":-22,"y2":-6},{"t":1100,"y":-18,"y2":-2},{"t":1150,"y":-4,"y2":12},{"t":1200,"y":-6,"y2":10},{"t":1225,"y":-12,"y2":4}],
"fFx": [{"k":"r","t":136,"y":95,"y2":147},{"k":"r","t":380,"y":100,"y2":144},{"k":"r","t":636,"y":101,"y2":147},{"k":"r","t":847,"y":100,"y2":146},{"k":"r","t":1080,"y":95,"y2":146},
{"k":"m","t":2,"y":0,"y2":24},{"k":"m","t":213,"y":10,"y2":26},{"k":"m","t":447,"y":8,"y2":57},{"k":"m","t":936,"y":15,"y2":37},{"k":"m","t":1180,"y":4,"y2":44},{"k":"m","t":700,"y":2,"y2":14}],
"gSr": [{"t":0,"y":106,"y2":129},{"t":1,"y":106,"y2":129},{"t":2,"y":106,"y2":129},{"t":3,"y":106,"y2":129},{"t":4,"y":106,"y2":130},{"t":5,"y":105,"y2":130},{"t":6,"y":104,"y2":132},{"t":7,"y":104,"y2":132},{"t":8,"y":103,"y2":133},{"t":9,"y":103,"y2":133},{"t":10,"y":103,"y2":133},{"t":11,"y":103,"y2":133},{"t":12,"y":103,"y2":133},{"t":13,"y":103,"y2":133},{"t":14,"y":104,"y2":133},{"t":15,"y":104,"y2":133},{"t":16,"y":104,"y2":133},{"t":17,"y":104,"y2":132},{"t":18,"y":104,"y2":132},{"t":19,"y":104,"y2":132},{"t":20,"y":104,"y2":132},{"t":21,"y":104,"y2":132},{"t":22,"y":104,"y2":132},{"t":23,"y":104,"y2":132},{"t":24,"y":104,"y2":132},{"t":24.67,"y":105,"y2":131}],
"gSm": [{"t":0,"y":17,"y2":31},{"t":1,"y":17,"y2":32},{"t":2,"y":16,"y2":30},{"t":3,"y":14,"y2":27},{"t":4,"y":13,"y2":27},{"t":5,"y":12,"y2":27},{"t":5.4,"y":20,"y2":33},{"t":6,"y":22,"y2":33},{"t":8,"y":23,"y2":34},{"t":10,"y":23,"y2":34},{"t":12,"y":23,"y2":35},{"t":14,"y":23,"y2":35},{"t":16,"y":23,"y2":34},{"t":18,"y":22,"y2":34},{"t":20,"y":22,"y2":33},{"t":22,"y":23,"y2":34},{"t":24,"y":22,"y2":34},{"t":24.67,"y":22,"y2":33}],
"gSb": [{"t":5.2,"y":12,"y2":30},{"t":6,"y":-8,"y2":32},{"t":7,"y":-10,"y2":33},{"t":8,"y":-11,"y2":33},{"t":9,"y":-11,"y2":34},{"t":10,"y":-12,"y2":34},{"t":11,"y":-12,"y2":34},{"t":12,"y":-12,"y2":34},{"t":13,"y":-11,"y2":35},{"t":14,"y":-11,"y2":35},{"t":15,"y":-11,"y2":34},{"t":16,"y":-10,"y2":34},{"t":17,"y":-10,"y2":33},{"t":18,"y":-10,"y2":34},{"t":19,"y":-10,"y2":33},{"t":20,"y":-10,"y2":33},{"t":21,"y":-11,"y2":34},{"t":22,"y":-11,"y2":34},{"t":23,"y":-12,"y2":34},{"t":24,"y":-12,"y2":34},{"t":24.67,"y":-12,"y2":33}],
"gSx": [{"k":"r","t":5.3,"y":84,"y2":137},{"k":"r","t":6,"y":86,"y2":135},{"k":"r","t":6.7,"y":83,"y2":136},{"k":"r","t":7.4,"y":85,"y2":138},{"k":"r","t":8.1,"y":84,"y2":134},{"k":"r","t":8.8,"y":86,"y2":137},{"k":"r","t":9.5,"y":83,"y2":135},{"k":"r","t":10.2,"y":85,"y2":136},{"k":"r","t":10.9,"y":84,"y2":138},{"k":"r","t":11.6,"y":86,"y2":135},{"k":"r","t":12.3,"y":83,"y2":137},{"k":"r","t":13,"y":85,"y2":134},{"k":"r","t":13.7,"y":84,"y2":136},{"k":"r","t":14.4,"y":86,"y2":138},{"k":"r","t":15.1,"y":83,"y2":135},{"k":"r","t":15.8,"y":85,"y2":137},{"k":"r","t":16.5,"y":84,"y2":136},{"k":"r","t":17.2,"y":86,"y2":134},{"k":"r","t":17.9,"y":83,"y2":137},{"k":"r","t":18.6,"y":85,"y2":135},{"k":"r","t":19.3,"y":84,"y2":138},{"k":"r","t":20,"y":86,"y2":136},{"k":"r","t":20.7,"y":83,"y2":134},{"k":"r","t":21.4,"y":85,"y2":137},{"k":"r","t":22.1,"y":84,"y2":135},{"k":"r","t":22.8,"y":86,"y2":136},{"k":"r","t":23.5,"y":84,"y2":134},{"k":"r","t":24.2,"y":85,"y2":137},
{"k":"m","t":5.4,"y":-6,"y2":33},{"k":"m","t":5.8,"y":-9,"y2":34},{"k":"m","t":6.2,"y":-10,"y2":33},{"k":"m","t":6.6,"y":-9,"y2":34},{"k":"m","t":7,"y":-11,"y2":33},{"k":"m","t":7.4,"y":-10,"y2":34},{"k":"m","t":7.8,"y":-12,"y2":33},{"k":"m","t":8.2,"y":-10,"y2":34},{"k":"m","t":8.6,"y":-11,"y2":33},{"k":"m","t":9,"y":-12,"y2":34},{"k":"m","t":9.4,"y":-10,"y2":33},{"k":"m","t":9.8,"y":-12,"y2":34},{"k":"m","t":10.2,"y":-11,"y2":33},{"k":"m","t":10.6,"y":-13,"y2":34},{"k":"m","t":11,"y":-11,"y2":33},{"k":"m","t":11.4,"y":-12,"y2":34},{"k":"m","t":11.8,"y":-10,"y2":33},{"k":"m","t":12.2,"y":-13,"y2":35},{"k":"m","t":12.6,"y":-11,"y2":34},{"k":"m","t":13,"y":-12,"y2":35},{"k":"m","t":13.4,"y":-10,"y2":34},{"k":"m","t":13.8,"y":-12,"y2":35},{"k":"m","t":14.2,"y":-11,"y2":34},{"k":"m","t":14.6,"y":-13,"y2":35},{"k":"m","t":15,"y":-10,"y2":34},{"k":"m","t":15.4,"y":-12,"y2":33},{"k":"m","t":15.8,"y":-11,"y2":34},{"k":"m","t":16.2,"y":-10,"y2":33},{"k":"m","t":16.6,"y":-12,"y2":34},{"k":"m","t":17,"y":-11,"y2":33},{"k":"m","t":17.4,"y":-10,"y2":34},{"k":"m","t":17.8,"y":-12,"y2":33},{"k":"m","t":18.2,"y":-10,"y2":34},{"k":"m","t":18.6,"y":-11,"y2":33},{"k":"m","t":19,"y":-12,"y2":34},{"k":"m","t":19.4,"y":-10,"y2":33},{"k":"m","t":19.8,"y":-11,"y2":34},{"k":"m","t":20.2,"y":-12,"y2":33},{"k":"m","t":20.6,"y":-10,"y2":34},{"k":"m","t":21,"y":-12,"y2":33},{"k":"m","t":21.4,"y":-11,"y2":34},{"k":"m","t":21.8,"y":-13,"y2":33},{"k":"m","t":22.2,"y":-11,"y2":34},{"k":"m","t":22.6,"y":-12,"y2":33},{"k":"m","t":23,"y":-13,"y2":34},{"k":"m","t":23.4,"y":-11,"y2":33},{"k":"m","t":23.8,"y":-12,"y2":34},{"k":"m","t":24.2,"y":-13,"y2":33},{"k":"m","t":24.6,"y":-11,"y2":33},{"k":"m","t":14.7,"y":-12,"y2":-39}],
"gFr": [{"t":0,"y":111,"y2":127},{"t":50,"y":110,"y2":128},{"t":100,"y":111,"y2":127},{"t":150,"y":110,"y2":128},{"t":200,"y":108,"y2":130},{"t":250,"y":102,"y2":135},{"t":291,"y":98,"y2":139},{"t":330,"y":104,"y2":133},{"t":380,"y":110,"y2":128},{"t":430,"y":111,"y2":127},{"t":480,"y":110,"y2":128},{"t":530,"y":110,"y2":128},{"t":580,"y":106,"y2":132},{"t":613,"y":103,"y2":134},{"t":650,"y":106,"y2":131},{"t":700,"y":110,"y2":128},{"t":750,"y":111,"y2":127},{"t":800,"y":110,"y2":128},{"t":850,"y":110,"y2":128},{"t":900,"y":108,"y2":130},{"t":940,"y":104,"y2":134},{"t":969,"y":100,"y2":137},{"t":1000,"y":106,"y2":131},{"t":1050,"y":110,"y2":128},{"t":1100,"y":111,"y2":127},{"t":1150,"y":110,"y2":128},{"t":1200,"y":111,"y2":127},{"t":1225,"y":111,"y2":127}],
"gFm": [{"t":0,"y":10,"y2":18},{"t":50,"y":18,"y2":26},{"t":113,"y":25,"y2":33},{"t":150,"y":20,"y2":28},{"t":200,"y":11,"y2":19},{"t":247,"y":0,"y2":8},{"t":300,"y":11,"y2":19},{"t":350,"y":20,"y2":28},{"t":400,"y":25,"y2":33},{"t":447,"y":27,"y2":35},{"t":500,"y":20,"y2":28},{"t":550,"y":10,"y2":18},{"t":600,"y":0,"y2":8},{"t":624,"y":-5,"y2":3},{"t":660,"y":8,"y2":16},{"t":713,"y":23,"y2":31},{"t":770,"y":22,"y2":30},{"t":824,"y":20,"y2":28},{"t":870,"y":11,"y2":19},{"t":936,"y":-2,"y2":6},{"t":990,"y":8,"y2":16},{"t":1047,"y":18,"y2":26},{"t":1100,"y":22,"y2":30},{"t":1150,"y":24,"y2":32},{"t":1180,"y":30,"y2":38},{"t":1213,"y":22,"y2":30},{"t":1225,"y":20,"y2":28}],
"gFx": [{"k":"r","t":291,"y":92,"y2":141},{"k":"r","t":300,"y":96,"y2":138},{"k":"r","t":613,"y":98,"y2":137},{"k":"r","t":969,"y":88,"y2":142},{"k":"r","t":975,"y":92,"y2":140}],
"hSr": [{"t":0,"y":102,"y2":123},{"t":1,"y":102,"y2":123},{"t":2,"y":102,"y2":123},{"t":3,"y":102,"y2":123},{"t":4,"y":102,"y2":123},{"t":5,"y":102,"y2":124},{"t":6,"y":101,"y2":125},{"t":7,"y":96,"y2":130},{"t":8,"y":94,"y2":133},{"t":9,"y":92,"y2":135},{"t":10,"y":91,"y2":137},{"t":11,"y":90,"y2":138},{"t":12,"y":90,"y2":138},{"t":13,"y":90,"y2":138},{"t":14,"y":91,"y2":137},{"t":15,"y":92,"y2":136},{"t":16,"y":92,"y2":135},{"t":17,"y":93,"y2":134},{"t":18,"y":94,"y2":133},{"t":19,"y":95,"y2":132},{"t":20,"y":96,"y2":131},{"t":21,"y":97,"y2":130},{"t":22,"y":98,"y2":129},{"t":23,"y":98,"y2":128},{"t":24,"y":99,"y2":127},{"t":24.67,"y":100,"y2":126}],
"hSm": [{"t":0,"y":-24,"y2":4},{"t":1,"y":-25,"y2":5},{"t":2,"y":-24,"y2":6},{"t":3,"y":-22,"y2":8},{"t":4,"y":-22,"y2":6},{"t":5,"y":-23,"y2":5},{"t":6,"y":-26,"y2":4},{"t":7,"y":-28,"y2":20},{"t":8,"y":-30,"y2":24},{"t":9,"y":-31,"y2":22},{"t":10,"y":-32,"y2":20},{"t":11,"y":-33,"y2":18},{"t":12,"y":-34,"y2":16},{"t":13,"y":-35,"y2":14},{"t":14,"y":-36,"y2":12},{"t":15,"y":-37,"y2":10},{"t":16,"y":-38,"y2":8},{"t":17,"y":-38,"y2":6},{"t":18,"y":-39,"y2":4},{"t":19,"y":-39,"y2":2},{"t":20,"y":-40,"y2":0},{"t":21,"y":-40,"y2":-2},{"t":22,"y":-40,"y2":-4},{"t":23,"y":-41,"y2":-5},{"t":24,"y":-41,"y2":-6},{"t":24.67,"y":-41,"y2":-6}],
"hSx": [{"k":"r","t":7.4,"y":90,"y2":140},{"k":"r","t":8.3,"y":88,"y2":142},{"k":"r","t":9.2,"y":87,"y2":145},{"k":"r","t":10.1,"y":86,"y2":143},{"k":"r","t":11,"y":84,"y2":146},{"k":"r","t":11.9,"y":86,"y2":147},{"k":"r","t":12.8,"y":85,"y2":144},{"k":"r","t":13.7,"y":87,"y2":143},{"k":"r","t":14.6,"y":86,"y2":142},{"k":"r","t":15.6,"y":88,"y2":140},{"k":"r","t":16.6,"y":89,"y2":141},{"k":"r","t":17.6,"y":90,"y2":139},{"k":"r","t":18.7,"y":92,"y2":138},{"k":"r","t":19.8,"y":92,"y2":140},{"k":"r","t":21,"y":94,"y2":137},{"k":"r","t":22.3,"y":95,"y2":136},{"k":"r","t":23.5,"y":96,"y2":138},
{"k":"m","t":0.7,"y":4,"y2":21},{"k":"m","t":6.3,"y":10,"y2":62},{"k":"m","t":6.8,"y":15,"y2":58},{"k":"m","t":7.3,"y":20,"y2":64},{"k":"m","t":7.8,"y":20,"y2":52},{"k":"m","t":8.3,"y":20,"y2":60},{"k":"m","t":8.8,"y":20,"y2":46},{"k":"m","t":9.3,"y":18,"y2":55},{"k":"m","t":9.8,"y":18,"y2":44},{"k":"m","t":10.3,"y":16,"y2":50},{"k":"m","t":10.8,"y":16,"y2":52},{"k":"m","t":11.3,"y":15,"y2":40},{"k":"m","t":11.8,"y":14,"y2":48},{"k":"m","t":12.3,"y":14,"y2":42},{"k":"m","t":12.8,"y":12,"y2":50},{"k":"m","t":13.3,"y":12,"y2":38},{"k":"m","t":13.8,"y":10,"y2":45},{"k":"m","t":14.3,"y":10,"y2":36},{"k":"m","t":14.8,"y":8,"y2":40},{"k":"m","t":15.3,"y":8,"y2":34},{"k":"m","t":15.8,"y":6,"y2":44},{"k":"m","t":16.3,"y":6,"y2":30},{"k":"m","t":16.8,"y":4,"y2":36},{"k":"m","t":17.3,"y":4,"y2":28},{"k":"m","t":17.8,"y":2,"y2":32},{"k":"m","t":18.3,"y":2,"y2":26},{"k":"m","t":18.8,"y":0,"y2":24},{"k":"m","t":19.3,"y":0,"y2":34},{"k":"m","t":19.8,"y":-2,"y2":22},{"k":"m","t":20.3,"y":-2,"y2":38},{"k":"m","t":20.8,"y":-3,"y2":20},{"k":"m","t":21.3,"y":-3,"y2":24},{"k":"m","t":21.8,"y":-4,"y2":18},{"k":"m","t":22.3,"y":-4,"y2":20},{"k":"m","t":22.8,"y":-5,"y2":14},{"k":"m","t":23.3,"y":-5,"y2":18},{"k":"m","t":23.8,"y":-6,"y2":16},{"k":"m","t":24.3,"y":-6,"y2":12}],
"hFr": [{"t":0,"y":114,"y2":128},{"t":40,"y":108,"y2":133},{"t":80,"y":102,"y2":138},{"t":120,"y":110,"y2":131},{"t":170,"y":114,"y2":128},{"t":230,"y":112,"y2":130},{"t":260,"y":104,"y2":137},{"t":280,"y":100,"y2":140},{"t":310,"y":108,"y2":133},{"t":360,"y":114,"y2":128},{"t":420,"y":113,"y2":129},{"t":460,"y":106,"y2":135},{"t":491,"y":100,"y2":140},{"t":520,"y":108,"y2":133},{"t":580,"y":114,"y2":128},{"t":640,"y":112,"y2":130},{"t":670,"y":106,"y2":135},{"t":691,"y":100,"y2":141},{"t":720,"y":108,"y2":133},{"t":790,"y":114,"y2":128},{"t":840,"y":112,"y2":130},{"t":870,"y":104,"y2":136},{"t":891,"y":100,"y2":140},{"t":920,"y":108,"y2":133},{"t":980,"y":114,"y2":128},{"t":1030,"y":112,"y2":130},{"t":1060,"y":104,"y2":137},{"t":1080,"y":98,"y2":141},{"t":1110,"y":108,"y2":133},{"t":1160,"y":114,"y2":128},{"t":1225,"y":114,"y2":128}],
"hFm": [{"t":0,"y":-7,"y2":6},{"t":50,"y":-19,"y2":-6},{"t":100,"y":-17,"y2":-4},{"t":140,"y":-7,"y2":6},{"t":170,"y":-2,"y2":11},{"t":200,"y":-9,"y2":4},{"t":250,"y":-17,"y2":-4},{"t":300,"y":-21,"y2":-8},{"t":340,"y":-15,"y2":-2},{"t":369,"y":-2,"y2":11},{"t":400,"y":-10,"y2":3},{"t":450,"y":-17,"y2":-4},{"t":500,"y":-12,"y2":1},{"t":536,"y":8,"y2":21},{"t":570,"y":-2,"y2":11},{"t":620,"y":-15,"y2":-2},{"t":680,"y":-21,"y2":-8},{"t":740,"y":-17,"y2":-4},{"t":780,"y":1,"y2":14},{"t":820,"y":-9,"y2":4},{"t":880,"y":-19,"y2":-6},{"t":930,"y":-11,"y2":2},{"t":951,"y":13,"y2":26},{"t":990,"y":-7,"y2":6},{"t":1040,"y":-17,"y2":-4},{"t":1100,"y":-13,"y2":0},{"t":1131,"y":5,"y2":18},{"t":1160,"y":-5,"y2":8},{"t":1180,"y":7,"y2":20},{"t":1210,"y":-9,"y2":4},{"t":1225,"y":-13,"y2":0}],
"hFx": [{"k":"r","t":80,"y":96,"y2":140},{"k":"r","t":280,"y":95,"y2":144},{"k":"r","t":491,"y":96,"y2":143},{"k":"r","t":691,"y":97,"y2":144},{"k":"r","t":891,"y":92,"y2":142},{"k":"r","t":1080,"y":94,"y2":144},
{"k":"m","t":147,"y":5,"y2":37},{"k":"m","t":180,"y":5,"y2":22},{"k":"m","t":369,"y":5,"y2":31},{"k":"m","t":536,"y":15,"y2":47},{"k":"m","t":780,"y":8,"y2":27},{"k":"m","t":951,"y":20,"y2":61},{"k":"m","t":1131,"y":12,"y2":45},{"k":"m","t":1180,"y":14,"y2":44},{"k":"m","t":2,"y":0,"y2":7}]
},
"concat": [
{"width":185,"height":169,
 "encoding":{"x":{"field":"t","type":"quantitative","scale":{"domain":[0,24.667],"nice":false,"zero":false},"axis":null},"y":{"field":"y","type":"quantitative","scale":{"domain":[-104,234],"nice":false,"zero":false},"axis":null}},
 "layer":[
  {"data":{"name":"aSr"},"mark":{"type":"area","color":"#707070"},"encoding":{"y2":{"field":"y2"}}},
  {"data":{"name":"core"},"transform":[{"filter":"datum.v=='aS'"}],"mark":{"type":"area","color":"#2a2a2a"},"encoding":{"y2":{"field":"y2"}}},
  {"data":{"name":"aSm"},"mark":{"type":"area","color":"#1badd8"},"encoding":{"y2":{"field":"y2"}}},
  {"data":{"name":"aSx"},"mark":{"type":"rule","opacity":0.75},"encoding":{"y2":{"field":"y2"},"color":{"condition":{"test":"datum.k=='r'","value":"#555555"},"value":"#1badd8"}}},
  {"data":{"name":"stim"},"transform":[{"filter":"datum.v=='a'"}],"mark":"rect","encoding":{"x2":{"field":"t2"},"y2":{"field":"y2"},"color":{"condition":{"test":"datum.k=='r'","value":"#2a2a2a"},"value":"#1badd8"}}},
  {"data":{"name":"bars"},"transform":[{"filter":"datum.v=='aS'"}],"mark":{"type":"rule","color":"#222222","strokeWidth":1.3},"encoding":{"x2":{"field":"t2"},"y2":{"field":"y2"}}},
  {"data":{"name":"labs"},"transform":[{"filter":"datum.v=='aS'"}],"mark":{"type":"text","align":"left","baseline":"alphabetic","fontSize":14,"color":"#222222"},"encoding":{"text":{"field":"txt"}}},
  {"data":{"name":"lets"},"transform":[{"filter":"datum.v=='a'"}],"mark":{"type":"text","align":"left","baseline":"alphabetic","fontSize":21,"fontWeight":"bold","color":"#222222"},"encoding":{"text":{"field":"txt"}}},
  {"data":{"values":[{"t":26.67,"y":168,"txt":"EPSCs at –65 mV"}]},"mark":{"type":"text","align":"center","baseline":"alphabetic","fontSize":17.5,"color":"#222222"},"encoding":{"text":{"field":"txt"}}},
  {"data":{"values":[{"t":-4.07,"y":54,"txt":"Dorsal pMN"}]},"mark":{"type":"text","align":"center","baseline":"middle","angle":270,"fontSize":18.5,"color":"#1badd8"},"encoding":{"text":{"field":"txt"}}}
 ]},
{"width":217,"height":169,
 "encoding":{"x":{"field":"t","type":"quantitative","scale":{"domain":[-220,1226.7],"nice":false,"zero":false},"axis":null},"y":{"field":"y","type":"quantitative","scale":{"domain":[-104,234],"nice":false,"zero":false},"axis":null}},
 "layer":[
  {"data":{"name":"aFr"},"mark":{"type":"area","color":"#505050"},"encoding":{"y2":{"field":"y2"}}},
  {"data":{"name":"core"},"transform":[{"filter":"datum.v=='aF'"}],"mark":{"type":"area","color":"#2a2a2a"},"encoding":{"y2":{"field":"y2"}}},
  {"data":{"name":"aFm"},"mark":{"type":"area","color":"#1badd8"},"encoding":{"y2":{"field":"y2"}}},
  {"data":{"name":"aFx"},"mark":{"type":"rule","opacity":0.75},"encoding":{"y2":{"field":"y2"},"color":{"condition":{"test":"datum.k=='r'","value":"#444444"},"value":"#1badd8"}}},
  {"data":{"name":"bars"},"transform":[{"filter":"datum.v=='aF'"}],"mark":{"type":"rule","color":"#222222","strokeWidth":1.3},"encoding":{"x2":{"field":"t2"},"y2":{"field":"y2"}}},
  {"data":{"name":"labs"},"transform":[{"filter":"datum.v=='aF'"}],"mark":{"type":"text","align":"left","baseline":"alphabetic","fontSize":14,"color":"#222222"},"encoding":{"text":{"field":"txt"}}}
 ]},
{"width":248,"height":169,
 "encoding":{"x":{"field":"t","type":"quantitative","scale":{"domain":[-8.4,24.667],"nice":false,"zero":false},"axis":null},"y":{"field":"y","type":"quantitative","scale":{"domain":[-104,234],"nice":false,"zero":false},"axis":null}},
 "layer":[
  {"data":{"name":"bSr"},"mark":{"type":"area","color":"#707070"},"encoding":{"y2":{"field":"y2"}}},
  {"data":{"name":"core"},"transform":[{"filter":"datum.v=='bS'"}],"mark":{"type":"area","color":"#2a2a2a"},"encoding":{"y2":{"field":"y2"}}},
  {"data":{"name":"bSm"},"mark":{"type":"area","color":"#1badd8"},"encoding":{"y2":{"field":"y2"}}},
  {"data":{"name":"bSx"},"mark":{"type":"rule","opacity":0.75},"encoding":{"y2":{"field":"y2"},"color":{"condition":{"test":"datum.k=='r'","value":"#555555"},"value":"#1badd8"}}},
  {"data":{"name":"stim"},"transform":[{"filter":"datum.v=='b'"}],"mark":"rect","encoding":{"x2":{"field":"t2"},"y2":{"field":"y2"},"color":{"condition":{"test":"datum.k=='r'","value":"#2a2a2a"},"value":"#1badd8"}}},
  {"data":{"name":"bars"},"transform":[{"filter":"datum.v=='bS'"}],"mark":{"type":"rule","color":"#222222","strokeWidth":1.3},"encoding":{"x2":{"field":"t2"},"y2":{"field":"y2"}}},
  {"data":{"name":"labs"},"transform":[{"filter":"datum.v=='bS'"}],"mark":{"type":"text","align":"left","baseline":"alphabetic","fontSize":14,"color":"#222222"},"encoding":{"text":{"field":"txt"}}},
  {"data":{"name":"lets"},"transform":[{"filter":"datum.v=='b'"}],"mark":{"type":"text","align":"left","baseline":"alphabetic","fontSize":21,"fontWeight":"bold","color":"#222222"},"encoding":{"text":{"field":"txt"}}},
  {"data":{"values":[{"t":26.93,"y":168,"txt":"IPSCs at 0 mV"}]},"mark":{"type":"text","align":"center","baseline":"alphabetic","fontSize":17.5,"color":"#222222"},"encoding":{"text":{"field":"txt"}}}
 ]},
{"width":217,"height":169,
 "encoding":{"x":{"field":"t","type":"quantitative","scale":{"domain":[-220,1226.7],"nice":false,"zero":false},"axis":null},"y":{"field":"y","type":"quantitative","scale":{"domain":[-104,234],"nice":false,"zero":false},"axis":null}},
 "layer":[
  {"data":{"name":"bFr"},"mark":{"type":"area","color":"#505050"},"encoding":{"y2":{"field":"y2"}}},
  {"data":{"name":"core"},"transform":[{"filter":"datum.v=='bF'"}],"mark":{"type":"area","color":"#2a2a2a"},"encoding":{"y2":{"field":"y2"}}},
  {"data":{"name":"bFm"},"mark":{"type":"area","color":"#1badd8"},"encoding":{"y2":{"field":"y2"}}},
  {"data":{"name":"bFx"},"mark":{"type":"rule","opacity":0.75},"encoding":{"y2":{"field":"y2"},"color":{"condition":{"test":"datum.k=='r'","value":"#444444"},"value":"#1badd8"}}},
  {"data":{"name":"bars"},"transform":[{"filter":"datum.v=='bF'"}],"mark":{"type":"rule","color":"#222222","strokeWidth":1.3},"encoding":{"x2":{"field":"t2"},"y2":{"field":"y2"}}},
  {"data":{"name":"labs"},"transform":[{"filter":"datum.v=='bF'"}],"mark":{"type":"text","align":"left","baseline":"alphabetic","fontSize":14,"color":"#222222"},"encoding":{"text":{"field":"txt"}}}
 ]},
{"width":185,"height":163,
 "encoding":{"x":{"field":"t","type":"quantitative","scale":{"domain":[0,24.667],"nice":false,"zero":false},"axis":null},"y":{"field":"y","type":"quantitative","scale":{"domain":[-80,246],"nice":false,"zero":false},"axis":null}},
 "layer":[
  {"data":{"name":"cSr"},"mark":{"type":"area","color":"#5a5a5a"},"encoding":{"y2":{"field":"y2"}}},
  {"data":{"name":"core"},"transform":[{"filter":"datum.v=='cS'"}],"mark":{"type":"area","color":"#1a1a1a"},"encoding":{"y2":{"field":"y2"}}},
  {"data":{"name":"cSm"},"mark":{"type":"area","color":"#4a4ea6","opacity":0.85},"encoding":{"y2":{"field":"y2"}}},
  {"data":{"name":"cSx"},"mark":{"type":"rule","opacity":0.75},"encoding":{"y2":{"field":"y2"},"color":{"condition":{"test":"datum.k=='r'","value":"#444444"},"value":"#8d8ccb"}}},
  {"data":{"name":"stim"},"transform":[{"filter":"datum.v=='c'"}],"mark":"rect","encoding":{"x2":{"field":"t2"},"y2":{"field":"y2"},"color":{"condition":{"test":"datum.k=='r'","value":"#1e1e1e"},"value":"#8d8ccb"}}},
  {"data":{"name":"bars"},"transform":[{"filter":"datum.v=='cS'"}],"mark":{"type":"rule","color":"#222222","strokeWidth":1.3},"encoding":{"x2":{"field":"t2"},"y2":{"field":"y2"}}},
  {"data":{"name":"labs"},"transform":[{"filter":"datum.v=='cS'"}],"mark":{"type":"text","align":"left","baseline":"alphabetic","fontSize":14,"color":"#222222"},"encoding":{"text":{"field":"txt"}}},
  {"data":{"name":"lets"},"transform":[{"filter":"datum.v=='c'"}],"mark":{"type":"text","align":"left","baseline":"alphabetic","fontSize":21,"fontWeight":"bold","color":"#222222"},"encoding":{"text":{"field":"txt"}}},
  {"data":{"values":[{"t":-4.07,"y":64,"txt":"Dorsal sMN"}]},"mark":{"type":"text","align":"center","baseline":"middle","angle":270,"fontSize":18.5,"color":"#3b3e98"},"encoding":{"text":{"field":"txt"}}}
 ]},
{"width":217,"height":163,
 "encoding":{"x":{"field":"t","type":"quantitative","scale":{"domain":[-220,1226.7],"nice":false,"zero":false},"axis":null},"y":{"field":"y","type":"quantitative","scale":{"domain":[-80,246],"nice":false,"zero":false},"axis":null}},
 "layer":[
  {"data":{"name":"cFr"},"mark":{"type":"area","color":"#505050"},"encoding":{"y2":{"field":"y2"}}},
  {"data":{"name":"core"},"transform":[{"filter":"datum.v=='cF'"}],"mark":{"type":"area","color":"#2a2a2a"},"encoding":{"y2":{"field":"y2"}}},
  {"data":{"name":"cFm"},"mark":{"type":"area","color":"#4a4ea6"},"encoding":{"y2":{"field":"y2"}}},
  {"data":{"name":"cFx"},"mark":{"type":"rule","opacity":0.75},"encoding":{"y2":{"field":"y2"},"color":{"condition":{"test":"datum.k=='r'","value":"#444444"},"value":"#4a4ea6"}}},
  {"data":{"name":"bars"},"transform":[{"filter":"datum.v=='cF'"}],"mark":{"type":"rule","color":"#222222","strokeWidth":1.3},"encoding":{"x2":{"field":"t2"},"y2":{"field":"y2"}}},
  {"data":{"name":"labs"},"transform":[{"filter":"datum.v=='cF'"}],"mark":{"type":"text","align":"left","baseline":"alphabetic","fontSize":14,"color":"#222222"},"encoding":{"text":{"field":"txt"}}}
 ]},
{"width":248,"height":163,
 "encoding":{"x":{"field":"t","type":"quantitative","scale":{"domain":[-8.4,24.667],"nice":false,"zero":false},"axis":null},"y":{"field":"y","type":"quantitative","scale":{"domain":[-80,246],"nice":false,"zero":false},"axis":null}},
 "layer":[
  {"data":{"name":"dSr"},"mark":{"type":"area","color":"#707070"},"encoding":{"y2":{"field":"y2"}}},
  {"data":{"name":"core"},"transform":[{"filter":"datum.v=='dS'"}],"mark":{"type":"area","color":"#2a2a2a"},"encoding":{"y2":{"field":"y2"}}},
  {"data":{"name":"dSm"},"mark":{"type":"area","color":"#3b3e98"},"encoding":{"y2":{"field":"y2"}}},
  {"data":{"name":"dSx"},"mark":{"type":"rule","opacity":0.8},"encoding":{"y2":{"field":"y2"},"color":{"condition":{"test":"datum.k=='r'","value":"#555555"},"value":"#3b3e98"}}},
  {"data":{"name":"stim"},"transform":[{"filter":"datum.v=='d'"}],"mark":"rect","encoding":{"x2":{"field":"t2"},"y2":{"field":"y2"},"color":{"condition":{"test":"datum.k=='r'","value":"#2a2a2a"},"value":"#3b3e98"}}},
  {"data":{"name":"bars"},"transform":[{"filter":"datum.v=='dS'"}],"mark":{"type":"rule","color":"#222222","strokeWidth":1.3},"encoding":{"x2":{"field":"t2"},"y2":{"field":"y2"}}},
  {"data":{"name":"labs"},"transform":[{"filter":"datum.v=='dS'"}],"mark":{"type":"text","align":"left","baseline":"alphabetic","fontSize":14,"color":"#222222"},"encoding":{"text":{"field":"txt"}}},
  {"data":{"name":"lets"},"transform":[{"filter":"datum.v=='d'"}],"mark":{"type":"text","align":"left","baseline":"alphabetic","fontSize":21,"fontWeight":"bold","color":"#222222"},"encoding":{"text":{"field":"txt"}}}
 ]},
{"width":217,"height":163,
 "encoding":{"x":{"field":"t","type":"quantitative","scale":{"domain":[-220,1226.7],"nice":false,"zero":false},"axis":null},"y":{"field":"y","type":"quantitative","scale":{"domain":[-80,246],"nice":false,"zero":false},"axis":null}},
 "layer":[
  {"data":{"name":"dFr"},"mark":{"type":"area","color":"#505050"},"encoding":{"y2":{"field":"y2"}}},
  {"data":{"name":"core"},"transform":[{"filter":"datum.v=='dF'"}],"mark":{"type":"area","color":"#1e1e1e"},"encoding":{"y2":{"field":"y2"}}},
  {"data":{"name":"dFm"},"mark":{"type":"area","color":"#3b3e98"},"encoding":{"y2":{"field":"y2"}}},
  {"data":{"name":"dFx"},"mark":{"type":"rule","opacity":0.8},"encoding":{"y2":{"field":"y2"},"color":{"condition":{"test":"datum.k=='r'","value":"#444444"},"value":"#3b3e98"}}},
  {"data":{"name":"bars"},"transform":[{"filter":"datum.v=='dF'"}],"mark":{"type":"rule","color":"#222222","strokeWidth":1.3},"encoding":{"x2":{"field":"t2"},"y2":{"field":"y2"}}},
  {"data":{"name":"labs"},"transform":[{"filter":"datum.v=='dF'"}],"mark":{"type":"text","align":"left","baseline":"alphabetic","fontSize":14,"color":"#222222"},"encoding":{"text":{"field":"txt"}}}
 ]},
{"width":185,"height":170,
 "encoding":{"x":{"field":"t","type":"quantitative","scale":{"domain":[0,24.667],"nice":false,"zero":false},"axis":null},"y":{"field":"y","type":"quantitative","scale":{"domain":[-90,250],"nice":false,"zero":false},"axis":null}},
 "layer":[
  {"data":{"name":"eSr"},"mark":{"type":"area","color":"#707070"},"encoding":{"y2":{"field":"y2"}}},
  {"data":{"name":"core"},"transform":[{"filter":"datum.v=='eS'"}],"mark":{"type":"area","color":"#2a2a2a"},"encoding":{"y2":{"field":"y2"}}},
  {"data":{"name":"eSm"},"mark":{"type":"area","color":"#4cab48"},"encoding":{"y2":{"field":"y2"}}},
  {"data":{"name":"eSx"},"mark":{"type":"rule","opacity":0.75},"encoding":{"y2":{"field":"y2"},"color":{"condition":{"test":"datum.k=='r'","value":"#555555"},"value":"#4cab48"}}},
  {"data":{"name":"stim"},"transform":[{"filter":"datum.v=='e'"}],"mark":"rect","encoding":{"x2":{"field":"t2"},"y2":{"field":"y2"},"color":{"condition":{"test":"datum.k=='r'","value":"#2a2a2a"},"value":"#4cab48"}}},
  {"data":{"name":"bars"},"transform":[{"filter":"datum.v=='eS'"}],"mark":{"type":"rule","color":"#222222","strokeWidth":1.3},"encoding":{"x2":{"field":"t2"},"y2":{"field":"y2"}}},
  {"data":{"name":"labs"},"transform":[{"filter":"datum.v=='eS'"}],"mark":{"type":"text","align":"left","baseline":"alphabetic","fontSize":14,"color":"#222222"},"encoding":{"text":{"field":"txt"}}},
  {"data":{"name":"lets"},"transform":[{"filter":"datum.v=='e'"}],"mark":{"type":"text","align":"left","baseline":"alphabetic","fontSize":21,"fontWeight":"bold","color":"#222222"},"encoding":{"text":{"field":"txt"}}},
  {"data":{"values":[{"t":-4.07,"y":74,"txt":"Ventromedial sMN"}]},"mark":{"type":"text","align":"center","baseline":"middle","angle":270,"fontSize":18.5,"color":"#4cab48"},"encoding":{"text":{"field":"txt"}}}
 ]},
{"width":217,"height":170,
 "encoding":{"x":{"field":"t","type":"quantitative","scale":{"domain":[-220,1226.7],"nice":false,"zero":false},"axis":null},"y":{"field":"y","type":"quantitative","scale":{"domain":[-90,250],"nice":false,"zero":false},"axis":null}},
 "layer":[
  {"data":{"name":"eFr"},"mark":{"type":"area","color":"#404040"},"encoding":{"y2":{"field":"y2"}}},
  {"data":{"name":"core"},"transform":[{"filter":"datum.v=='eF'"}],"mark":{"type":"area","color":"#2a2a2a"},"encoding":{"y2":{"field":"y2"}}},
  {"data":{"name":"eFm"},"mark":{"type":"area","color":"#4cab48"},"encoding":{"y2":{"field":"y2"}}},
  {"data":{"name":"eFx"},"mark":{"type":"rule","opacity":0.75},"encoding":{"y2":{"field":"y2"},"color":{"condition":{"test":"datum.k=='r'","value":"#444444"},"value":"#4cab48"}}},
  {"data":{"name":"bars"},"transform":[{"filter":"datum.v=='eF'"}],"mark":{"type":"rule","color":"#222222","strokeWidth":1.3},"encoding":{"x2":{"field":"t2"},"y2":{"field":"y2"}}},
  {"data":{"name":"labs"},"transform":[{"filter":"datum.v=='eF'"}],"mark":{"type":"text","align":"left","baseline":"alphabetic","fontSize":14,"color":"#222222"},"encoding":{"text":{"field":"txt"}}}
 ]},
{"width":248,"height":170,
 "encoding":{"x":{"field":"t","type":"quantitative","scale":{"domain":[-8.4,24.667],"nice":false,"zero":false},"axis":null},"y":{"field":"y","type":"quantitative","scale":{"domain":[-90,250],"nice":false,"zero":false},"axis":null}},
 "layer":[
  {"data":{"name":"fSr"},"mark":{"type":"area","color":"#707070"},"encoding":{"y2":{"field":"y2"}}},
  {"data":{"name":"core"},"transform":[{"filter":"datum.v=='fS'"}],"mark":{"type":"area","color":"#2a2a2a"},"encoding":{"y2":{"field":"y2"}}},
  {"data":{"name":"fSm"},"mark":{"type":"area","color":"#4cab48"},"encoding":{"y2":{"field":"y2"}}},
  {"data":{"name":"fSx"},"mark":{"type":"rule","opacity":0.7},"encoding":{"y2":{"field":"y2"},"color":{"condition":{"test":"datum.k=='r'","value":"#555555"},"value":"#4cab48"}}},
  {"data":{"name":"stim"},"transform":[{"filter":"datum.v=='f'"}],"mark":"rect","encoding":{"x2":{"field":"t2"},"y2":{"field":"y2"},"color":{"condition":{"test":"datum.k=='r'","value":"#2a2a2a"},"value":"#4cab48"}}},
  {"data":{"name":"bars"},"transform":[{"filter":"datum.v=='fS'"}],"mark":{"type":"rule","color":"#222222","strokeWidth":1.3},"encoding":{"x2":{"field":"t2"},"y2":{"field":"y2"}}},
  {"data":{"name":"labs"},"transform":[{"filter":"datum.v=='fS'"}],"mark":{"type":"text","align":"left","baseline":"alphabetic","fontSize":14,"color":"#222222"},"encoding":{"text":{"field":"txt"}}},
  {"data":{"name":"lets"},"transform":[{"filter":"datum.v=='f'"}],"mark":{"type":"text","align":"left","baseline":"alphabetic","fontSize":21,"fontWeight":"bold","color":"#222222"},"encoding":{"text":{"field":"txt"}}}
 ]},
{"width":217,"height":170,
 "encoding":{"x":{"field":"t","type":"quantitative","scale":{"domain":[-220,1226.7],"nice":false,"zero":false},"axis":null},"y":{"field":"y","type":"quantitative","scale":{"domain":[-90,250],"nice":false,"zero":false},"axis":null}},
 "layer":[
  {"data":{"name":"fFr"},"mark":{"type":"area","color":"#404040"},"encoding":{"y2":{"field":"y2"}}},
  {"data":{"name":"core"},"transform":[{"filter":"datum.v=='fF'"}],"mark":{"type":"area","color":"#2a2a2a"},"encoding":{"y2":{"field":"y2"}}},
  {"data":{"name":"fFm"},"mark":{"type":"area","color":"#4cab48"},"encoding":{"y2":{"field":"y2"}}},
  {"data":{"name":"fFx"},"mark":{"type":"rule","opacity":0.75},"encoding":{"y2":{"field":"y2"},"color":{"condition":{"test":"datum.k=='r'","value":"#444444"},"value":"#4cab48"}}},
  {"data":{"name":"bars"},"transform":[{"filter":"datum.v=='fF'"}],"mark":{"type":"rule","color":"#222222","strokeWidth":1.3},"encoding":{"x2":{"field":"t2"},"y2":{"field":"y2"}}},
  {"data":{"name":"labs"},"transform":[{"filter":"datum.v=='fF'"}],"mark":{"type":"text","align":"left","baseline":"alphabetic","fontSize":14,"color":"#222222"},"encoding":{"text":{"field":"txt"}}}
 ]},
{"width":185,"height":180,
 "encoding":{"x":{"field":"t","type":"quantitative","scale":{"domain":[0,24.667],"nice":false,"zero":false},"axis":null},"y":{"field":"y","type":"quantitative","scale":{"domain":[-120,240],"nice":false,"zero":false},"axis":null}},
 "layer":[
  {"data":{"name":"gSr"},"mark":{"type":"area","color":"#5a5a5a"},"encoding":{"y2":{"field":"y2"}}},
  {"data":{"name":"core"},"transform":[{"filter":"datum.v=='gS'"}],"mark":{"type":"area","color":"#1a1a1a"},"encoding":{"y2":{"field":"y2"}}},
  {"data":{"name":"gSb"},"mark":{"type":"area","color":"#b42a30","opacity":0.35},"encoding":{"y2":{"field":"y2"}}},
  {"data":{"name":"gSm"},"mark":{"type":"area","color":"#b42a30"},"encoding":{"y2":{"field":"y2"}}},
  {"data":{"name":"gSx"},"mark":{"type":"rule","opacity":0.85},"encoding":{"y2":{"field":"y2"},"color":{"condition":{"test":"datum.k=='r'","value":"#333333"},"value":"#b42a30"}}},
  {"data":{"name":"stim"},"transform":[{"filter":"datum.v=='g'"}],"mark":"rect","encoding":{"x2":{"field":"t2"},"y2":{"field":"y2"},"color":{"condition":{"test":"datum.k=='r'","value":"#1e1e1e"},"value":"#b42a30"}}},
  {"data":{"name":"bars"},"transform":[{"filter":"datum.v=='gS'"}],"mark":{"type":"rule","color":"#222222","strokeWidth":1.3},"encoding":{"x2":{"field":"t2"},"y2":{"field":"y2"}}},
  {"data":{"name":"labs"},"transform":[{"filter":"datum.v=='gS'"}],"mark":{"type":"text","align":"left","baseline":"alphabetic","fontSize":14,"color":"#222222"},"encoding":{"text":{"field":"txt"}}},
  {"data":{"name":"lets"},"transform":[{"filter":"datum.v=='g'"}],"mark":{"type":"text","align":"left","baseline":"alphabetic","fontSize":21,"fontWeight":"bold","color":"#222222"},"encoding":{"text":{"field":"txt"}}},
  {"data":{"values":[{"t":-4.07,"y":54,"txt":"Ventrolateral sMN"}]},"mark":{"type":"text","align":"center","baseline":"middle","angle":270,"fontSize":18.5,"color":"#b42a30"},"encoding":{"text":{"field":"txt"}}}
 ]},
{"width":217,"height":180,
 "encoding":{"x":{"field":"t","type":"quantitative","scale":{"domain":[-220,1226.7],"nice":false,"zero":false},"axis":null},"y":{"field":"y","type":"quantitative","scale":{"domain":[-120,240],"nice":false,"zero":false},"axis":null}},
 "layer":[
  {"data":{"name":"gFr"},"mark":{"type":"area","color":"#404040"},"encoding":{"y2":{"field":"y2"}}},
  {"data":{"name":"core"},"transform":[{"filter":"datum.v=='gF'"}],"mark":{"type":"area","color":"#1a1a1a"},"encoding":{"y2":{"field":"y2"}}},
  {"data":{"name":"gFm"},"mark":{"type":"area","color":"#b42a30"},"encoding":{"y2":{"field":"y2"}}},
  {"data":{"name":"gFx"},"mark":{"type":"rule","opacity":0.8},"encoding":{"y2":{"field":"y2"},"color":{"condition":{"test":"datum.k=='r'","value":"#333333"},"value":"#b42a30"}}},
  {"data":{"name":"bars"},"transform":[{"filter":"datum.v=='gF'"}],"mark":{"type":"rule","color":"#222222","strokeWidth":1.3},"encoding":{"x2":{"field":"t2"},"y2":{"field":"y2"}}},
  {"data":{"name":"labs"},"transform":[{"filter":"datum.v=='gF'"}],"mark":{"type":"text","align":"left","baseline":"alphabetic","fontSize":14,"color":"#222222"},"encoding":{"text":{"field":"txt"}}}
 ]},
{"width":248,"height":180,
 "encoding":{"x":{"field":"t","type":"quantitative","scale":{"domain":[-8.4,24.667],"nice":false,"zero":false},"axis":null},"y":{"field":"y","type":"quantitative","scale":{"domain":[-120,240],"nice":false,"zero":false},"axis":null}},
 "layer":[
  {"data":{"name":"hSr"},"mark":{"type":"area","color":"#707070"},"encoding":{"y2":{"field":"y2"}}},
  {"data":{"name":"core"},"transform":[{"filter":"datum.v=='hS'"}],"mark":{"type":"area","color":"#1a1a1a"},"encoding":{"y2":{"field":"y2"}}},
  {"data":{"name":"hSm"},"mark":{"type":"area","color":"#b42a30"},"encoding":{"y2":{"field":"y2"}}},
  {"data":{"name":"hSx"},"mark":{"type":"rule","opacity":0.8},"encoding":{"y2":{"field":"y2"},"color":{"condition":{"test":"datum.k=='r'","value":"#555555"},"value":"#b42a30"}}},
  {"data":{"name":"stim"},"transform":[{"filter":"datum.v=='h'"}],"mark":"rect","encoding":{"x2":{"field":"t2"},"y2":{"field":"y2"},"color":{"condition":{"test":"datum.k=='r'","value":"#1e1e1e"},"value":"#b42a30"}}},
  {"data":{"name":"bars"},"transform":[{"filter":"datum.v=='hS'"}],"mark":{"type":"rule","color":"#222222","strokeWidth":1.3},"encoding":{"x2":{"field":"t2"},"y2":{"field":"y2"}}},
  {"data":{"name":"labs"},"transform":[{"filter":"datum.v=='hS'"}],"mark":{"type":"text","align":"left","baseline":"alphabetic","fontSize":14,"color":"#222222"},"encoding":{"text":{"field":"txt"}}},
  {"data":{"name":"lets"},"transform":[{"filter":"datum.v=='h'"}],"mark":{"type":"text","align":"left","baseline":"alphabetic","fontSize":21,"fontWeight":"bold","color":"#222222"},"encoding":{"text":{"field":"txt"}}}
 ]},
{"width":217,"height":180,
 "encoding":{"x":{"field":"t","type":"quantitative","scale":{"domain":[-220,1226.7],"nice":false,"zero":false},"axis":null},"y":{"field":"y","type":"quantitative","scale":{"domain":[-120,240],"nice":false,"zero":false},"axis":null}},
 "layer":[
  {"data":{"name":"hFr"},"mark":{"type":"area","color":"#404040"},"encoding":{"y2":{"field":"y2"}}},
  {"data":{"name":"core"},"transform":[{"filter":"datum.v=='hF'"}],"mark":{"type":"area","color":"#1a1a1a"},"encoding":{"y2":{"field":"y2"}}},
  {"data":{"name":"hFm"},"mark":{"type":"area","color":"#b42a30"},"encoding":{"y2":{"field":"y2"}}},
  {"data":{"name":"hFx"},"mark":{"type":"rule","opacity":0.8},"encoding":{"y2":{"field":"y2"},"color":{"condition":{"test":"datum.k=='r'","value":"#333333"},"value":"#b42a30"}}},
  {"data":{"name":"bars"},"transform":[{"filter":"datum.v=='hF'"}],"mark":{"type":"rule","color":"#222222","strokeWidth":1.3},"encoding":{"x2":{"field":"t2"},"y2":{"field":"y2"}}},
  {"data":{"name":"labs"},"transform":[{"filter":"datum.v=='hF'"}],"mark":{"type":"text","align":"left","baseline":"alphabetic","fontSize":14,"color":"#222222"},"encoding":{"text":{"field":"txt"}}}
 ]}
]
}
